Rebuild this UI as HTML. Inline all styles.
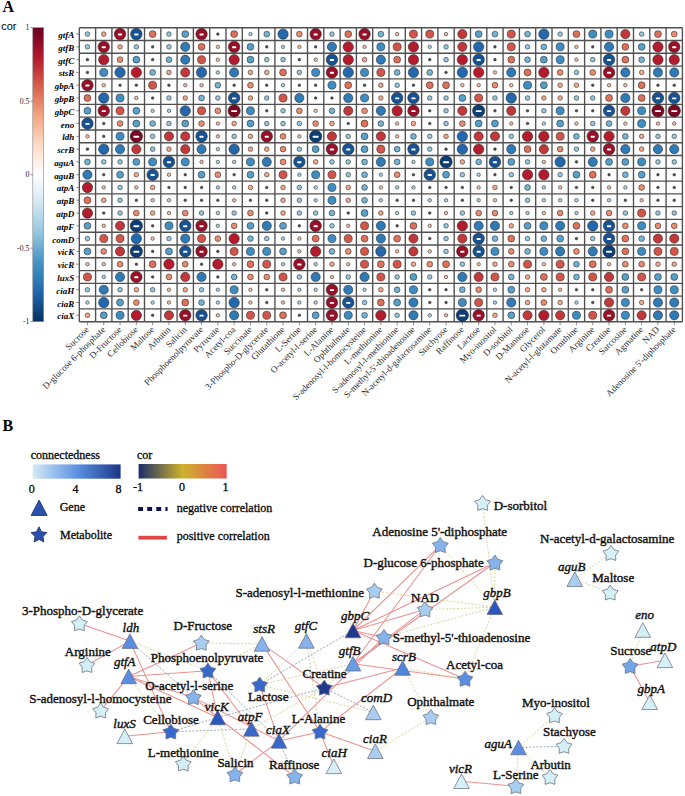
<!DOCTYPE html><html><head><meta charset="utf-8"><style>
html,body{margin:0;padding:0;background:#fff;width:685px;height:796px;overflow:hidden}
svg{display:block}
.ser{font-family:"Liberation Serif",serif} .lg{stroke:#111;stroke-width:0.3}
.san{font-family:"Liberation Sans",sans-serif}
</style></head><body>
<svg width="685" height="796" viewBox="0 0 685 796">
<rect width="685" height="796" fill="#fff"/>
<text x="2.4" y="12.3" class="ser" font-weight="bold" font-size="16">A</text>
<text x="1.2" y="29.8" class="san" font-size="11">cor</text>
<defs><linearGradient id="cbA" x1="0" y1="0" x2="0" y2="1">
<stop offset="0.000" stop-color="#67001F"/>
<stop offset="0.100" stop-color="#B2182B"/>
<stop offset="0.200" stop-color="#D6604D"/>
<stop offset="0.300" stop-color="#F4A582"/>
<stop offset="0.400" stop-color="#FDDBC7"/>
<stop offset="0.500" stop-color="#FFFFFF"/>
<stop offset="0.600" stop-color="#D1E5F0"/>
<stop offset="0.700" stop-color="#92C5DE"/>
<stop offset="0.800" stop-color="#4393C3"/>
<stop offset="0.900" stop-color="#2166AC"/>
<stop offset="1.000" stop-color="#053061"/>
</linearGradient>
<linearGradient id="cbCon" x1="0" y1="0" x2="1" y2="0"><stop offset="0" stop-color="#d3eaf6"/><stop offset="0.5" stop-color="#5d92e2"/><stop offset="1" stop-color="#1c3689"/></linearGradient>
<linearGradient id="cbCor" x1="0" y1="0" x2="1" y2="0"><stop offset="0" stop-color="#1b2c6b"/><stop offset="0.5" stop-color="#cdb22c"/><stop offset="1" stop-color="#ea5656"/></linearGradient>
</defs>
<rect x="32.8" y="27.7" width="10.9" height="294.0" fill="url(#cbA)" stroke="#888" stroke-width="0.6"/>
<line x1="30.3" x2="32.8" y1="27.70" y2="27.70" stroke="#555" stroke-width="0.6"/>
<text x="29.4" y="30.40" class="ser" font-size="7.8" text-anchor="end" fill="#222">1</text>
<line x1="30.3" x2="32.8" y1="101.20" y2="101.20" stroke="#555" stroke-width="0.6"/>
<text x="29.4" y="103.90" class="ser" font-size="7.8" text-anchor="end" fill="#222">0.5</text>
<line x1="30.3" x2="32.8" y1="174.70" y2="174.70" stroke="#555" stroke-width="0.6"/>
<text x="29.4" y="177.40" class="ser" font-size="7.8" text-anchor="end" fill="#222">0</text>
<line x1="30.3" x2="32.8" y1="248.20" y2="248.20" stroke="#555" stroke-width="0.6"/>
<text x="29.4" y="250.90" class="ser" font-size="7.8" text-anchor="end" fill="#222">-0.5</text>
<line x1="30.3" x2="32.8" y1="321.70" y2="321.70" stroke="#555" stroke-width="0.6"/>
<text x="29.4" y="324.40" class="ser" font-size="7.8" text-anchor="end" fill="#222">-1</text>
<g stroke="#505050" stroke-width="1.35" fill="none">
<line x1="79.30" x2="79.30" y1="27.70" y2="321.70"/>
<line x1="95.60" x2="95.60" y1="27.70" y2="321.70"/>
<line x1="111.90" x2="111.90" y1="27.70" y2="321.70"/>
<line x1="128.20" x2="128.20" y1="27.70" y2="321.70"/>
<line x1="144.50" x2="144.50" y1="27.70" y2="321.70"/>
<line x1="160.80" x2="160.80" y1="27.70" y2="321.70"/>
<line x1="177.10" x2="177.10" y1="27.70" y2="321.70"/>
<line x1="193.40" x2="193.40" y1="27.70" y2="321.70"/>
<line x1="209.70" x2="209.70" y1="27.70" y2="321.70"/>
<line x1="226.00" x2="226.00" y1="27.70" y2="321.70"/>
<line x1="242.30" x2="242.30" y1="27.70" y2="321.70"/>
<line x1="258.60" x2="258.60" y1="27.70" y2="321.70"/>
<line x1="274.90" x2="274.90" y1="27.70" y2="321.70"/>
<line x1="291.20" x2="291.20" y1="27.70" y2="321.70"/>
<line x1="307.50" x2="307.50" y1="27.70" y2="321.70"/>
<line x1="323.80" x2="323.80" y1="27.70" y2="321.70"/>
<line x1="340.10" x2="340.10" y1="27.70" y2="321.70"/>
<line x1="356.40" x2="356.40" y1="27.70" y2="321.70"/>
<line x1="372.70" x2="372.70" y1="27.70" y2="321.70"/>
<line x1="389.00" x2="389.00" y1="27.70" y2="321.70"/>
<line x1="405.30" x2="405.30" y1="27.70" y2="321.70"/>
<line x1="421.60" x2="421.60" y1="27.70" y2="321.70"/>
<line x1="437.90" x2="437.90" y1="27.70" y2="321.70"/>
<line x1="454.20" x2="454.20" y1="27.70" y2="321.70"/>
<line x1="470.50" x2="470.50" y1="27.70" y2="321.70"/>
<line x1="486.80" x2="486.80" y1="27.70" y2="321.70"/>
<line x1="503.10" x2="503.10" y1="27.70" y2="321.70"/>
<line x1="519.40" x2="519.40" y1="27.70" y2="321.70"/>
<line x1="535.70" x2="535.70" y1="27.70" y2="321.70"/>
<line x1="552.00" x2="552.00" y1="27.70" y2="321.70"/>
<line x1="568.30" x2="568.30" y1="27.70" y2="321.70"/>
<line x1="584.60" x2="584.60" y1="27.70" y2="321.70"/>
<line x1="600.90" x2="600.90" y1="27.70" y2="321.70"/>
<line x1="617.20" x2="617.20" y1="27.70" y2="321.70"/>
<line x1="633.50" x2="633.50" y1="27.70" y2="321.70"/>
<line x1="649.80" x2="649.80" y1="27.70" y2="321.70"/>
<line x1="666.10" x2="666.10" y1="27.70" y2="321.70"/>
<line x1="682.40" x2="682.40" y1="27.70" y2="321.70"/>
<line x1="79.30" x2="682.40" y1="27.70" y2="27.70"/>
<line x1="79.30" x2="682.40" y1="40.48" y2="40.48"/>
<line x1="79.30" x2="682.40" y1="53.27" y2="53.27"/>
<line x1="79.30" x2="682.40" y1="66.05" y2="66.05"/>
<line x1="79.30" x2="682.40" y1="78.83" y2="78.83"/>
<line x1="79.30" x2="682.40" y1="91.61" y2="91.61"/>
<line x1="79.30" x2="682.40" y1="104.40" y2="104.40"/>
<line x1="79.30" x2="682.40" y1="117.18" y2="117.18"/>
<line x1="79.30" x2="682.40" y1="129.96" y2="129.96"/>
<line x1="79.30" x2="682.40" y1="142.74" y2="142.74"/>
<line x1="79.30" x2="682.40" y1="155.53" y2="155.53"/>
<line x1="79.30" x2="682.40" y1="168.31" y2="168.31"/>
<line x1="79.30" x2="682.40" y1="181.09" y2="181.09"/>
<line x1="79.30" x2="682.40" y1="193.87" y2="193.87"/>
<line x1="79.30" x2="682.40" y1="206.66" y2="206.66"/>
<line x1="79.30" x2="682.40" y1="219.44" y2="219.44"/>
<line x1="79.30" x2="682.40" y1="232.22" y2="232.22"/>
<line x1="79.30" x2="682.40" y1="245.00" y2="245.00"/>
<line x1="79.30" x2="682.40" y1="257.79" y2="257.79"/>
<line x1="79.30" x2="682.40" y1="270.57" y2="270.57"/>
<line x1="79.30" x2="682.40" y1="283.35" y2="283.35"/>
<line x1="79.30" x2="682.40" y1="296.13" y2="296.13"/>
<line x1="79.30" x2="682.40" y1="308.92" y2="308.92"/>
<line x1="79.30" x2="682.40" y1="321.70" y2="321.70"/>
</g>
<g stroke="#444" stroke-width="0.6">
<line x1="76.3" x2="79.30" y1="34.09" y2="34.09"/>
<line x1="76.3" x2="79.30" y1="46.87" y2="46.87"/>
<line x1="76.3" x2="79.30" y1="59.66" y2="59.66"/>
<line x1="76.3" x2="79.30" y1="72.44" y2="72.44"/>
<line x1="76.3" x2="79.30" y1="85.22" y2="85.22"/>
<line x1="76.3" x2="79.30" y1="98.00" y2="98.00"/>
<line x1="76.3" x2="79.30" y1="110.79" y2="110.79"/>
<line x1="76.3" x2="79.30" y1="123.57" y2="123.57"/>
<line x1="76.3" x2="79.30" y1="136.35" y2="136.35"/>
<line x1="76.3" x2="79.30" y1="149.13" y2="149.13"/>
<line x1="76.3" x2="79.30" y1="161.92" y2="161.92"/>
<line x1="76.3" x2="79.30" y1="174.70" y2="174.70"/>
<line x1="76.3" x2="79.30" y1="187.48" y2="187.48"/>
<line x1="76.3" x2="79.30" y1="200.27" y2="200.27"/>
<line x1="76.3" x2="79.30" y1="213.05" y2="213.05"/>
<line x1="76.3" x2="79.30" y1="225.83" y2="225.83"/>
<line x1="76.3" x2="79.30" y1="238.61" y2="238.61"/>
<line x1="76.3" x2="79.30" y1="251.40" y2="251.40"/>
<line x1="76.3" x2="79.30" y1="264.18" y2="264.18"/>
<line x1="76.3" x2="79.30" y1="276.96" y2="276.96"/>
<line x1="76.3" x2="79.30" y1="289.74" y2="289.74"/>
<line x1="76.3" x2="79.30" y1="302.53" y2="302.53"/>
<line x1="76.3" x2="79.30" y1="315.31" y2="315.31"/>
<line x1="87.45" x2="87.45" y1="321.70" y2="325.20"/>
<line x1="103.75" x2="103.75" y1="321.70" y2="325.20"/>
<line x1="120.05" x2="120.05" y1="321.70" y2="325.20"/>
<line x1="136.35" x2="136.35" y1="321.70" y2="325.20"/>
<line x1="152.65" x2="152.65" y1="321.70" y2="325.20"/>
<line x1="168.95" x2="168.95" y1="321.70" y2="325.20"/>
<line x1="185.25" x2="185.25" y1="321.70" y2="325.20"/>
<line x1="201.55" x2="201.55" y1="321.70" y2="325.20"/>
<line x1="217.85" x2="217.85" y1="321.70" y2="325.20"/>
<line x1="234.15" x2="234.15" y1="321.70" y2="325.20"/>
<line x1="250.45" x2="250.45" y1="321.70" y2="325.20"/>
<line x1="266.75" x2="266.75" y1="321.70" y2="325.20"/>
<line x1="283.05" x2="283.05" y1="321.70" y2="325.20"/>
<line x1="299.35" x2="299.35" y1="321.70" y2="325.20"/>
<line x1="315.65" x2="315.65" y1="321.70" y2="325.20"/>
<line x1="331.95" x2="331.95" y1="321.70" y2="325.20"/>
<line x1="348.25" x2="348.25" y1="321.70" y2="325.20"/>
<line x1="364.55" x2="364.55" y1="321.70" y2="325.20"/>
<line x1="380.85" x2="380.85" y1="321.70" y2="325.20"/>
<line x1="397.15" x2="397.15" y1="321.70" y2="325.20"/>
<line x1="413.45" x2="413.45" y1="321.70" y2="325.20"/>
<line x1="429.75" x2="429.75" y1="321.70" y2="325.20"/>
<line x1="446.05" x2="446.05" y1="321.70" y2="325.20"/>
<line x1="462.35" x2="462.35" y1="321.70" y2="325.20"/>
<line x1="478.65" x2="478.65" y1="321.70" y2="325.20"/>
<line x1="494.95" x2="494.95" y1="321.70" y2="325.20"/>
<line x1="511.25" x2="511.25" y1="321.70" y2="325.20"/>
<line x1="527.55" x2="527.55" y1="321.70" y2="325.20"/>
<line x1="543.85" x2="543.85" y1="321.70" y2="325.20"/>
<line x1="560.15" x2="560.15" y1="321.70" y2="325.20"/>
<line x1="576.45" x2="576.45" y1="321.70" y2="325.20"/>
<line x1="592.75" x2="592.75" y1="321.70" y2="325.20"/>
<line x1="609.05" x2="609.05" y1="321.70" y2="325.20"/>
<line x1="625.35" x2="625.35" y1="321.70" y2="325.20"/>
<line x1="641.65" x2="641.65" y1="321.70" y2="325.20"/>
<line x1="657.95" x2="657.95" y1="321.70" y2="325.20"/>
<line x1="674.25" x2="674.25" y1="321.70" y2="325.20"/>
</g>
<g stroke="#222" stroke-width="0.55">
<circle cx="87.45" cy="34.09" r="2.31" fill="#95c7df"/>
<circle cx="103.75" cy="34.09" r="2.31" fill="#f4a885"/>
<circle cx="120.05" cy="34.09" r="5.73" fill="#981027"/>
<circle cx="136.35" cy="34.09" r="5.73" fill="#175392"/>
<circle cx="152.65" cy="34.09" r="3.45" fill="#de715a"/>
<circle cx="168.95" cy="34.09" r="2.31" fill="#95c7df"/>
<circle cx="185.25" cy="34.09" r="3.45" fill="#57a0ca"/>
<circle cx="201.55" cy="34.09" r="5.73" fill="#981027"/>
<circle cx="217.85" cy="34.09" r="1.30" fill="#555"/>
<circle cx="234.15" cy="34.09" r="3.45" fill="#de715a"/>
<circle cx="250.45" cy="34.09" r="1.74" fill="#aed3e6"/>
<circle cx="266.75" cy="34.09" r="2.88" fill="#76b4d5"/>
<circle cx="283.05" cy="34.09" r="5.16" fill="#2368ad"/>
<circle cx="299.35" cy="34.09" r="2.88" fill="#ea8d6f"/>
<circle cx="315.65" cy="34.09" r="5.73" fill="#981027"/>
<circle cx="331.95" cy="34.09" r="2.31" fill="#95c7df"/>
<circle cx="348.25" cy="34.09" r="3.45" fill="#de715a"/>
<circle cx="364.55" cy="34.09" r="5.73" fill="#981027"/>
<circle cx="380.85" cy="34.09" r="2.88" fill="#76b4d5"/>
<circle cx="397.15" cy="34.09" r="1.74" fill="#f8bda1"/>
<circle cx="413.45" cy="34.09" r="4.02" fill="#d15548"/>
<circle cx="429.75" cy="34.09" r="4.02" fill="#d15548"/>
<circle cx="446.05" cy="34.09" r="1.74" fill="#f8bda1"/>
<circle cx="462.35" cy="34.09" r="4.59" fill="#c2383a"/>
<circle cx="478.65" cy="34.09" r="3.45" fill="#57a0ca"/>
<circle cx="494.95" cy="34.09" r="2.88" fill="#76b4d5"/>
<circle cx="511.25" cy="34.09" r="4.02" fill="#d15548"/>
<circle cx="527.55" cy="34.09" r="2.88" fill="#76b4d5"/>
<circle cx="543.85" cy="34.09" r="5.16" fill="#2368ad"/>
<circle cx="560.15" cy="34.09" r="2.31" fill="#95c7df"/>
<circle cx="576.45" cy="34.09" r="3.45" fill="#de715a"/>
<circle cx="592.75" cy="34.09" r="4.02" fill="#3e8cc0"/>
<circle cx="609.05" cy="34.09" r="4.02" fill="#3e8cc0"/>
<circle cx="625.35" cy="34.09" r="4.59" fill="#c2383a"/>
<circle cx="641.65" cy="34.09" r="2.31" fill="#95c7df"/>
<circle cx="657.95" cy="34.09" r="3.45" fill="#de715a"/>
<circle cx="674.25" cy="34.09" r="2.88" fill="#ea8d6f"/>
<circle cx="87.45" cy="46.87" r="2.31" fill="#95c7df"/>
<circle cx="103.75" cy="46.87" r="5.73" fill="#981027"/>
<circle cx="120.05" cy="46.87" r="2.31" fill="#f4a885"/>
<circle cx="136.35" cy="46.87" r="2.31" fill="#95c7df"/>
<circle cx="152.65" cy="46.87" r="1.30" fill="#555"/>
<circle cx="168.95" cy="46.87" r="2.31" fill="#95c7df"/>
<circle cx="185.25" cy="46.87" r="4.59" fill="#307ab6"/>
<circle cx="201.55" cy="46.87" r="3.45" fill="#de715a"/>
<circle cx="217.85" cy="46.87" r="1.74" fill="#f8bda1"/>
<circle cx="234.15" cy="46.87" r="5.73" fill="#981027"/>
<circle cx="250.45" cy="46.87" r="3.45" fill="#57a0ca"/>
<circle cx="266.75" cy="46.87" r="1.30" fill="#555"/>
<circle cx="283.05" cy="46.87" r="1.74" fill="#aed3e6"/>
<circle cx="299.35" cy="46.87" r="1.74" fill="#f8bda1"/>
<circle cx="315.65" cy="46.87" r="1.30" fill="#555"/>
<circle cx="331.95" cy="46.87" r="4.59" fill="#307ab6"/>
<circle cx="348.25" cy="46.87" r="5.16" fill="#b41c2d"/>
<circle cx="364.55" cy="46.87" r="1.74" fill="#f8bda1"/>
<circle cx="380.85" cy="46.87" r="4.02" fill="#3e8cc0"/>
<circle cx="397.15" cy="46.87" r="4.02" fill="#d15548"/>
<circle cx="413.45" cy="46.87" r="5.16" fill="#b41c2d"/>
<circle cx="429.75" cy="46.87" r="1.74" fill="#aed3e6"/>
<circle cx="446.05" cy="46.87" r="2.31" fill="#95c7df"/>
<circle cx="462.35" cy="46.87" r="4.59" fill="#c2383a"/>
<circle cx="478.65" cy="46.87" r="5.16" fill="#2368ad"/>
<circle cx="494.95" cy="46.87" r="1.30" fill="#555"/>
<circle cx="511.25" cy="46.87" r="4.02" fill="#d15548"/>
<circle cx="527.55" cy="46.87" r="2.31" fill="#95c7df"/>
<circle cx="543.85" cy="46.87" r="2.88" fill="#76b4d5"/>
<circle cx="560.15" cy="46.87" r="4.02" fill="#3e8cc0"/>
<circle cx="576.45" cy="46.87" r="1.74" fill="#f8bda1"/>
<circle cx="592.75" cy="46.87" r="1.30" fill="#555"/>
<circle cx="609.05" cy="46.87" r="4.59" fill="#307ab6"/>
<circle cx="625.35" cy="46.87" r="3.45" fill="#de715a"/>
<circle cx="641.65" cy="46.87" r="3.45" fill="#57a0ca"/>
<circle cx="657.95" cy="46.87" r="5.16" fill="#b41c2d"/>
<circle cx="674.25" cy="46.87" r="5.73" fill="#981027"/>
<circle cx="87.45" cy="59.66" r="1.30" fill="#555"/>
<circle cx="103.75" cy="59.66" r="5.16" fill="#b41c2d"/>
<circle cx="120.05" cy="59.66" r="2.88" fill="#ea8d6f"/>
<circle cx="136.35" cy="59.66" r="3.45" fill="#57a0ca"/>
<circle cx="152.65" cy="59.66" r="1.30" fill="#555"/>
<circle cx="168.95" cy="59.66" r="2.88" fill="#76b4d5"/>
<circle cx="185.25" cy="59.66" r="4.59" fill="#307ab6"/>
<circle cx="201.55" cy="59.66" r="4.02" fill="#d15548"/>
<circle cx="217.85" cy="59.66" r="1.74" fill="#f8bda1"/>
<circle cx="234.15" cy="59.66" r="5.16" fill="#b41c2d"/>
<circle cx="250.45" cy="59.66" r="3.45" fill="#57a0ca"/>
<circle cx="266.75" cy="59.66" r="2.31" fill="#95c7df"/>
<circle cx="283.05" cy="59.66" r="2.31" fill="#95c7df"/>
<circle cx="299.35" cy="59.66" r="1.30" fill="#555"/>
<circle cx="315.65" cy="59.66" r="1.74" fill="#f8bda1"/>
<circle cx="331.95" cy="59.66" r="5.73" fill="#175392"/>
<circle cx="348.25" cy="59.66" r="5.16" fill="#b41c2d"/>
<circle cx="364.55" cy="59.66" r="2.31" fill="#f4a885"/>
<circle cx="380.85" cy="59.66" r="4.59" fill="#307ab6"/>
<circle cx="397.15" cy="59.66" r="3.45" fill="#de715a"/>
<circle cx="413.45" cy="59.66" r="5.16" fill="#b41c2d"/>
<circle cx="429.75" cy="59.66" r="1.30" fill="#555"/>
<circle cx="446.05" cy="59.66" r="2.31" fill="#95c7df"/>
<circle cx="462.35" cy="59.66" r="5.16" fill="#b41c2d"/>
<circle cx="478.65" cy="59.66" r="5.73" fill="#175392"/>
<circle cx="494.95" cy="59.66" r="1.30" fill="#555"/>
<circle cx="511.25" cy="59.66" r="3.45" fill="#de715a"/>
<circle cx="527.55" cy="59.66" r="2.88" fill="#76b4d5"/>
<circle cx="543.85" cy="59.66" r="3.45" fill="#57a0ca"/>
<circle cx="560.15" cy="59.66" r="4.02" fill="#3e8cc0"/>
<circle cx="576.45" cy="59.66" r="1.74" fill="#f8bda1"/>
<circle cx="592.75" cy="59.66" r="2.31" fill="#95c7df"/>
<circle cx="609.05" cy="59.66" r="5.73" fill="#175392"/>
<circle cx="625.35" cy="59.66" r="3.45" fill="#de715a"/>
<circle cx="641.65" cy="59.66" r="2.88" fill="#76b4d5"/>
<circle cx="657.95" cy="59.66" r="5.16" fill="#b41c2d"/>
<circle cx="674.25" cy="59.66" r="5.16" fill="#b41c2d"/>
<circle cx="87.45" cy="72.44" r="1.30" fill="#555"/>
<circle cx="103.75" cy="72.44" r="4.02" fill="#3e8cc0"/>
<circle cx="120.05" cy="72.44" r="5.16" fill="#2368ad"/>
<circle cx="136.35" cy="72.44" r="5.16" fill="#b41c2d"/>
<circle cx="152.65" cy="72.44" r="2.88" fill="#76b4d5"/>
<circle cx="168.95" cy="72.44" r="2.31" fill="#f4a885"/>
<circle cx="185.25" cy="72.44" r="4.59" fill="#c2383a"/>
<circle cx="201.55" cy="72.44" r="5.16" fill="#2368ad"/>
<circle cx="217.85" cy="72.44" r="1.74" fill="#aed3e6"/>
<circle cx="234.15" cy="72.44" r="4.59" fill="#307ab6"/>
<circle cx="250.45" cy="72.44" r="2.31" fill="#f4a885"/>
<circle cx="266.75" cy="72.44" r="2.31" fill="#f4a885"/>
<circle cx="283.05" cy="72.44" r="3.45" fill="#de715a"/>
<circle cx="299.35" cy="72.44" r="2.31" fill="#95c7df"/>
<circle cx="315.65" cy="72.44" r="4.02" fill="#3e8cc0"/>
<circle cx="331.95" cy="72.44" r="5.73" fill="#981027"/>
<circle cx="348.25" cy="72.44" r="5.16" fill="#2368ad"/>
<circle cx="364.55" cy="72.44" r="4.02" fill="#3e8cc0"/>
<circle cx="380.85" cy="72.44" r="4.02" fill="#d15548"/>
<circle cx="397.15" cy="72.44" r="2.88" fill="#76b4d5"/>
<circle cx="413.45" cy="72.44" r="5.16" fill="#2368ad"/>
<circle cx="429.75" cy="72.44" r="2.88" fill="#76b4d5"/>
<circle cx="446.05" cy="72.44" r="1.30" fill="#555"/>
<circle cx="462.35" cy="72.44" r="5.16" fill="#2368ad"/>
<circle cx="478.65" cy="72.44" r="5.16" fill="#b41c2d"/>
<circle cx="494.95" cy="72.44" r="1.74" fill="#f8bda1"/>
<circle cx="511.25" cy="72.44" r="4.59" fill="#307ab6"/>
<circle cx="527.55" cy="72.44" r="3.45" fill="#de715a"/>
<circle cx="543.85" cy="72.44" r="5.16" fill="#b41c2d"/>
<circle cx="560.15" cy="72.44" r="2.88" fill="#ea8d6f"/>
<circle cx="576.45" cy="72.44" r="2.31" fill="#95c7df"/>
<circle cx="592.75" cy="72.44" r="2.88" fill="#ea8d6f"/>
<circle cx="609.05" cy="72.44" r="5.73" fill="#981027"/>
<circle cx="625.35" cy="72.44" r="4.59" fill="#307ab6"/>
<circle cx="641.65" cy="72.44" r="2.31" fill="#f4a885"/>
<circle cx="657.95" cy="72.44" r="4.59" fill="#307ab6"/>
<circle cx="674.25" cy="72.44" r="4.59" fill="#307ab6"/>
<circle cx="87.45" cy="85.22" r="5.73" fill="#981027"/>
<circle cx="103.75" cy="85.22" r="1.74" fill="#f8bda1"/>
<circle cx="120.05" cy="85.22" r="1.30" fill="#555"/>
<circle cx="136.35" cy="85.22" r="1.30" fill="#555"/>
<circle cx="152.65" cy="85.22" r="4.02" fill="#d15548"/>
<circle cx="168.95" cy="85.22" r="1.30" fill="#555"/>
<circle cx="185.25" cy="85.22" r="1.74" fill="#f8bda1"/>
<circle cx="201.55" cy="85.22" r="1.74" fill="#f8bda1"/>
<circle cx="217.85" cy="85.22" r="2.88" fill="#76b4d5"/>
<circle cx="234.15" cy="85.22" r="1.30" fill="#555"/>
<circle cx="250.45" cy="85.22" r="2.88" fill="#ea8d6f"/>
<circle cx="266.75" cy="85.22" r="1.30" fill="#555"/>
<circle cx="283.05" cy="85.22" r="1.74" fill="#aed3e6"/>
<circle cx="299.35" cy="85.22" r="1.30" fill="#555"/>
<circle cx="315.65" cy="85.22" r="1.30" fill="#555"/>
<circle cx="331.95" cy="85.22" r="4.02" fill="#3e8cc0"/>
<circle cx="348.25" cy="85.22" r="3.45" fill="#de715a"/>
<circle cx="364.55" cy="85.22" r="1.30" fill="#555"/>
<circle cx="380.85" cy="85.22" r="2.31" fill="#f4a885"/>
<circle cx="397.15" cy="85.22" r="2.31" fill="#95c7df"/>
<circle cx="413.45" cy="85.22" r="1.30" fill="#555"/>
<circle cx="429.75" cy="85.22" r="3.45" fill="#de715a"/>
<circle cx="446.05" cy="85.22" r="3.45" fill="#de715a"/>
<circle cx="462.35" cy="85.22" r="1.74" fill="#f8bda1"/>
<circle cx="478.65" cy="85.22" r="1.74" fill="#f8bda1"/>
<circle cx="494.95" cy="85.22" r="2.88" fill="#ea8d6f"/>
<circle cx="511.25" cy="85.22" r="1.74" fill="#f8bda1"/>
<circle cx="527.55" cy="85.22" r="4.02" fill="#3e8cc0"/>
<circle cx="543.85" cy="85.22" r="3.45" fill="#57a0ca"/>
<circle cx="560.15" cy="85.22" r="2.31" fill="#f4a885"/>
<circle cx="576.45" cy="85.22" r="2.31" fill="#f4a885"/>
<circle cx="592.75" cy="85.22" r="1.30" fill="#555"/>
<circle cx="609.05" cy="85.22" r="1.74" fill="#f8bda1"/>
<circle cx="625.35" cy="85.22" r="1.74" fill="#f8bda1"/>
<circle cx="641.65" cy="85.22" r="3.45" fill="#de715a"/>
<circle cx="657.95" cy="85.22" r="1.30" fill="#555"/>
<circle cx="674.25" cy="85.22" r="1.30" fill="#555"/>
<circle cx="87.45" cy="98.00" r="3.45" fill="#de715a"/>
<circle cx="103.75" cy="98.00" r="5.16" fill="#2368ad"/>
<circle cx="120.05" cy="98.00" r="4.02" fill="#3e8cc0"/>
<circle cx="136.35" cy="98.00" r="1.74" fill="#f8bda1"/>
<circle cx="152.65" cy="98.00" r="1.30" fill="#555"/>
<circle cx="168.95" cy="98.00" r="2.31" fill="#95c7df"/>
<circle cx="185.25" cy="98.00" r="2.31" fill="#f4a885"/>
<circle cx="201.55" cy="98.00" r="2.88" fill="#76b4d5"/>
<circle cx="217.85" cy="98.00" r="2.31" fill="#95c7df"/>
<circle cx="234.15" cy="98.00" r="5.73" fill="#175392"/>
<circle cx="250.45" cy="98.00" r="2.31" fill="#f4a885"/>
<circle cx="266.75" cy="98.00" r="2.31" fill="#95c7df"/>
<circle cx="283.05" cy="98.00" r="4.02" fill="#d15548"/>
<circle cx="299.35" cy="98.00" r="4.59" fill="#307ab6"/>
<circle cx="315.65" cy="98.00" r="1.30" fill="#555"/>
<circle cx="331.95" cy="98.00" r="1.30" fill="#555"/>
<circle cx="348.25" cy="98.00" r="4.59" fill="#307ab6"/>
<circle cx="364.55" cy="98.00" r="4.02" fill="#3e8cc0"/>
<circle cx="380.85" cy="98.00" r="2.31" fill="#f4a885"/>
<circle cx="397.15" cy="98.00" r="5.73" fill="#175392"/>
<circle cx="413.45" cy="98.00" r="5.73" fill="#175392"/>
<circle cx="429.75" cy="98.00" r="2.31" fill="#95c7df"/>
<circle cx="446.05" cy="98.00" r="2.31" fill="#95c7df"/>
<circle cx="462.35" cy="98.00" r="3.45" fill="#57a0ca"/>
<circle cx="478.65" cy="98.00" r="4.02" fill="#d15548"/>
<circle cx="494.95" cy="98.00" r="2.31" fill="#95c7df"/>
<circle cx="511.25" cy="98.00" r="5.16" fill="#2368ad"/>
<circle cx="527.55" cy="98.00" r="2.31" fill="#95c7df"/>
<circle cx="543.85" cy="98.00" r="2.31" fill="#f4a885"/>
<circle cx="560.15" cy="98.00" r="2.31" fill="#f4a885"/>
<circle cx="576.45" cy="98.00" r="2.31" fill="#95c7df"/>
<circle cx="592.75" cy="98.00" r="2.31" fill="#95c7df"/>
<circle cx="609.05" cy="98.00" r="3.45" fill="#de715a"/>
<circle cx="625.35" cy="98.00" r="4.59" fill="#307ab6"/>
<circle cx="641.65" cy="98.00" r="3.45" fill="#de715a"/>
<circle cx="657.95" cy="98.00" r="5.73" fill="#175392"/>
<circle cx="674.25" cy="98.00" r="5.73" fill="#175392"/>
<circle cx="87.45" cy="110.79" r="3.45" fill="#57a0ca"/>
<circle cx="103.75" cy="110.79" r="5.73" fill="#981027"/>
<circle cx="120.05" cy="110.79" r="4.02" fill="#d15548"/>
<circle cx="136.35" cy="110.79" r="3.45" fill="#57a0ca"/>
<circle cx="152.65" cy="110.79" r="1.74" fill="#aed3e6"/>
<circle cx="168.95" cy="110.79" r="1.74" fill="#aed3e6"/>
<circle cx="185.25" cy="110.79" r="5.16" fill="#2368ad"/>
<circle cx="201.55" cy="110.79" r="4.02" fill="#d15548"/>
<circle cx="217.85" cy="110.79" r="2.88" fill="#ea8d6f"/>
<circle cx="234.15" cy="110.79" r="6.15" fill="#7a0622"/>
<circle cx="250.45" cy="110.79" r="4.02" fill="#3e8cc0"/>
<circle cx="266.75" cy="110.79" r="1.30" fill="#555"/>
<circle cx="283.05" cy="110.79" r="2.31" fill="#95c7df"/>
<circle cx="299.35" cy="110.79" r="2.88" fill="#ea8d6f"/>
<circle cx="315.65" cy="110.79" r="1.74" fill="#f8bda1"/>
<circle cx="331.95" cy="110.79" r="2.88" fill="#76b4d5"/>
<circle cx="348.25" cy="110.79" r="4.59" fill="#c2383a"/>
<circle cx="364.55" cy="110.79" r="2.88" fill="#ea8d6f"/>
<circle cx="380.85" cy="110.79" r="4.59" fill="#307ab6"/>
<circle cx="397.15" cy="110.79" r="5.16" fill="#b41c2d"/>
<circle cx="413.45" cy="110.79" r="5.73" fill="#981027"/>
<circle cx="429.75" cy="110.79" r="1.30" fill="#555"/>
<circle cx="446.05" cy="110.79" r="2.31" fill="#95c7df"/>
<circle cx="462.35" cy="110.79" r="4.59" fill="#c2383a"/>
<circle cx="478.65" cy="110.79" r="6.15" fill="#0c3d74"/>
<circle cx="494.95" cy="110.79" r="1.30" fill="#555"/>
<circle cx="511.25" cy="110.79" r="4.59" fill="#c2383a"/>
<circle cx="527.55" cy="110.79" r="1.30" fill="#555"/>
<circle cx="543.85" cy="110.79" r="2.31" fill="#95c7df"/>
<circle cx="560.15" cy="110.79" r="4.02" fill="#3e8cc0"/>
<circle cx="576.45" cy="110.79" r="1.30" fill="#555"/>
<circle cx="592.75" cy="110.79" r="1.30" fill="#555"/>
<circle cx="609.05" cy="110.79" r="5.73" fill="#175392"/>
<circle cx="625.35" cy="110.79" r="4.59" fill="#c2383a"/>
<circle cx="641.65" cy="110.79" r="4.02" fill="#3e8cc0"/>
<circle cx="657.95" cy="110.79" r="6.15" fill="#7a0622"/>
<circle cx="674.25" cy="110.79" r="6.15" fill="#7a0622"/>
<circle cx="87.45" cy="123.57" r="5.73" fill="#175392"/>
<circle cx="103.75" cy="123.57" r="1.30" fill="#555"/>
<circle cx="120.05" cy="123.57" r="2.88" fill="#ea8d6f"/>
<circle cx="136.35" cy="123.57" r="3.45" fill="#57a0ca"/>
<circle cx="152.65" cy="123.57" r="2.88" fill="#76b4d5"/>
<circle cx="168.95" cy="123.57" r="2.31" fill="#95c7df"/>
<circle cx="185.25" cy="123.57" r="3.45" fill="#57a0ca"/>
<circle cx="201.55" cy="123.57" r="2.88" fill="#ea8d6f"/>
<circle cx="217.85" cy="123.57" r="1.74" fill="#f8bda1"/>
<circle cx="234.15" cy="123.57" r="2.31" fill="#f4a885"/>
<circle cx="250.45" cy="123.57" r="3.45" fill="#57a0ca"/>
<circle cx="266.75" cy="123.57" r="2.31" fill="#95c7df"/>
<circle cx="283.05" cy="123.57" r="2.31" fill="#95c7df"/>
<circle cx="299.35" cy="123.57" r="2.31" fill="#95c7df"/>
<circle cx="315.65" cy="123.57" r="2.88" fill="#ea8d6f"/>
<circle cx="331.95" cy="123.57" r="2.31" fill="#f4a885"/>
<circle cx="348.25" cy="123.57" r="1.30" fill="#555"/>
<circle cx="364.55" cy="123.57" r="3.45" fill="#de715a"/>
<circle cx="380.85" cy="123.57" r="2.88" fill="#76b4d5"/>
<circle cx="397.15" cy="123.57" r="1.74" fill="#f8bda1"/>
<circle cx="413.45" cy="123.57" r="2.31" fill="#f4a885"/>
<circle cx="429.75" cy="123.57" r="1.30" fill="#555"/>
<circle cx="446.05" cy="123.57" r="2.31" fill="#95c7df"/>
<circle cx="462.35" cy="123.57" r="2.88" fill="#ea8d6f"/>
<circle cx="478.65" cy="123.57" r="3.45" fill="#57a0ca"/>
<circle cx="494.95" cy="123.57" r="3.45" fill="#57a0ca"/>
<circle cx="511.25" cy="123.57" r="1.74" fill="#f8bda1"/>
<circle cx="527.55" cy="123.57" r="1.30" fill="#555"/>
<circle cx="543.85" cy="123.57" r="1.74" fill="#aed3e6"/>
<circle cx="560.15" cy="123.57" r="3.45" fill="#57a0ca"/>
<circle cx="576.45" cy="123.57" r="1.74" fill="#f8bda1"/>
<circle cx="592.75" cy="123.57" r="2.31" fill="#95c7df"/>
<circle cx="609.05" cy="123.57" r="2.88" fill="#76b4d5"/>
<circle cx="625.35" cy="123.57" r="1.74" fill="#f8bda1"/>
<circle cx="641.65" cy="123.57" r="4.02" fill="#3e8cc0"/>
<circle cx="657.95" cy="123.57" r="1.74" fill="#f8bda1"/>
<circle cx="674.25" cy="123.57" r="1.74" fill="#f8bda1"/>
<circle cx="87.45" cy="136.35" r="1.74" fill="#f8bda1"/>
<circle cx="103.75" cy="136.35" r="1.30" fill="#555"/>
<circle cx="120.05" cy="136.35" r="4.02" fill="#3e8cc0"/>
<circle cx="136.35" cy="136.35" r="6.15" fill="#7a0622"/>
<circle cx="152.65" cy="136.35" r="2.31" fill="#95c7df"/>
<circle cx="168.95" cy="136.35" r="4.59" fill="#c2383a"/>
<circle cx="185.25" cy="136.35" r="4.59" fill="#c2383a"/>
<circle cx="201.55" cy="136.35" r="5.73" fill="#175392"/>
<circle cx="217.85" cy="136.35" r="1.74" fill="#f8bda1"/>
<circle cx="234.15" cy="136.35" r="2.31" fill="#95c7df"/>
<circle cx="250.45" cy="136.35" r="2.31" fill="#f4a885"/>
<circle cx="266.75" cy="136.35" r="5.73" fill="#981027"/>
<circle cx="283.05" cy="136.35" r="2.88" fill="#ea8d6f"/>
<circle cx="299.35" cy="136.35" r="1.74" fill="#f8bda1"/>
<circle cx="315.65" cy="136.35" r="6.15" fill="#0c3d74"/>
<circle cx="331.95" cy="136.35" r="4.59" fill="#c2383a"/>
<circle cx="348.25" cy="136.35" r="2.31" fill="#95c7df"/>
<circle cx="364.55" cy="136.35" r="3.45" fill="#57a0ca"/>
<circle cx="380.85" cy="136.35" r="4.59" fill="#c2383a"/>
<circle cx="397.15" cy="136.35" r="1.74" fill="#f8bda1"/>
<circle cx="413.45" cy="136.35" r="2.88" fill="#76b4d5"/>
<circle cx="429.75" cy="136.35" r="2.31" fill="#95c7df"/>
<circle cx="446.05" cy="136.35" r="2.31" fill="#f4a885"/>
<circle cx="462.35" cy="136.35" r="5.16" fill="#2368ad"/>
<circle cx="478.65" cy="136.35" r="4.59" fill="#c2383a"/>
<circle cx="494.95" cy="136.35" r="4.59" fill="#c2383a"/>
<circle cx="511.25" cy="136.35" r="2.31" fill="#95c7df"/>
<circle cx="527.55" cy="136.35" r="5.16" fill="#b41c2d"/>
<circle cx="543.85" cy="136.35" r="5.16" fill="#b41c2d"/>
<circle cx="560.15" cy="136.35" r="4.02" fill="#d15548"/>
<circle cx="576.45" cy="136.35" r="2.88" fill="#76b4d5"/>
<circle cx="592.75" cy="136.35" r="5.73" fill="#981027"/>
<circle cx="609.05" cy="136.35" r="5.16" fill="#b41c2d"/>
<circle cx="625.35" cy="136.35" r="2.88" fill="#76b4d5"/>
<circle cx="641.65" cy="136.35" r="2.31" fill="#f4a885"/>
<circle cx="657.95" cy="136.35" r="2.31" fill="#95c7df"/>
<circle cx="674.25" cy="136.35" r="2.31" fill="#95c7df"/>
<circle cx="87.45" cy="149.13" r="1.30" fill="#555"/>
<circle cx="103.75" cy="149.13" r="5.16" fill="#2368ad"/>
<circle cx="120.05" cy="149.13" r="4.59" fill="#307ab6"/>
<circle cx="136.35" cy="149.13" r="4.59" fill="#c2383a"/>
<circle cx="152.65" cy="149.13" r="2.31" fill="#95c7df"/>
<circle cx="168.95" cy="149.13" r="2.31" fill="#f4a885"/>
<circle cx="185.25" cy="149.13" r="4.59" fill="#c2383a"/>
<circle cx="201.55" cy="149.13" r="4.59" fill="#307ab6"/>
<circle cx="217.85" cy="149.13" r="1.74" fill="#aed3e6"/>
<circle cx="234.15" cy="149.13" r="5.16" fill="#2368ad"/>
<circle cx="250.45" cy="149.13" r="2.31" fill="#f4a885"/>
<circle cx="266.75" cy="149.13" r="2.31" fill="#f4a885"/>
<circle cx="283.05" cy="149.13" r="2.88" fill="#ea8d6f"/>
<circle cx="299.35" cy="149.13" r="2.31" fill="#95c7df"/>
<circle cx="315.65" cy="149.13" r="3.45" fill="#57a0ca"/>
<circle cx="331.95" cy="149.13" r="5.73" fill="#981027"/>
<circle cx="348.25" cy="149.13" r="5.73" fill="#175392"/>
<circle cx="364.55" cy="149.13" r="3.45" fill="#57a0ca"/>
<circle cx="380.85" cy="149.13" r="4.02" fill="#d15548"/>
<circle cx="397.15" cy="149.13" r="2.88" fill="#76b4d5"/>
<circle cx="413.45" cy="149.13" r="5.73" fill="#175392"/>
<circle cx="429.75" cy="149.13" r="2.31" fill="#95c7df"/>
<circle cx="446.05" cy="149.13" r="1.30" fill="#555"/>
<circle cx="462.35" cy="149.13" r="5.16" fill="#2368ad"/>
<circle cx="478.65" cy="149.13" r="5.16" fill="#b41c2d"/>
<circle cx="494.95" cy="149.13" r="1.30" fill="#555"/>
<circle cx="511.25" cy="149.13" r="4.59" fill="#307ab6"/>
<circle cx="527.55" cy="149.13" r="3.45" fill="#de715a"/>
<circle cx="543.85" cy="149.13" r="4.59" fill="#c2383a"/>
<circle cx="560.15" cy="149.13" r="2.88" fill="#ea8d6f"/>
<circle cx="576.45" cy="149.13" r="2.31" fill="#95c7df"/>
<circle cx="592.75" cy="149.13" r="2.31" fill="#f4a885"/>
<circle cx="609.05" cy="149.13" r="5.73" fill="#981027"/>
<circle cx="625.35" cy="149.13" r="4.59" fill="#307ab6"/>
<circle cx="641.65" cy="149.13" r="2.31" fill="#f4a885"/>
<circle cx="657.95" cy="149.13" r="4.59" fill="#307ab6"/>
<circle cx="674.25" cy="149.13" r="4.59" fill="#307ab6"/>
<circle cx="87.45" cy="161.92" r="2.88" fill="#76b4d5"/>
<circle cx="103.75" cy="161.92" r="2.31" fill="#95c7df"/>
<circle cx="120.05" cy="161.92" r="2.31" fill="#95c7df"/>
<circle cx="136.35" cy="161.92" r="3.45" fill="#57a0ca"/>
<circle cx="152.65" cy="161.92" r="4.02" fill="#3e8cc0"/>
<circle cx="168.95" cy="161.92" r="5.73" fill="#175392"/>
<circle cx="185.25" cy="161.92" r="4.02" fill="#3e8cc0"/>
<circle cx="201.55" cy="161.92" r="1.74" fill="#f8bda1"/>
<circle cx="217.85" cy="161.92" r="1.74" fill="#aed3e6"/>
<circle cx="234.15" cy="161.92" r="1.74" fill="#aed3e6"/>
<circle cx="250.45" cy="161.92" r="4.02" fill="#3e8cc0"/>
<circle cx="266.75" cy="161.92" r="4.59" fill="#307ab6"/>
<circle cx="283.05" cy="161.92" r="2.88" fill="#ea8d6f"/>
<circle cx="299.35" cy="161.92" r="5.73" fill="#175392"/>
<circle cx="315.65" cy="161.92" r="2.31" fill="#f4a885"/>
<circle cx="331.95" cy="161.92" r="2.31" fill="#95c7df"/>
<circle cx="348.25" cy="161.92" r="2.31" fill="#95c7df"/>
<circle cx="364.55" cy="161.92" r="2.88" fill="#76b4d5"/>
<circle cx="380.85" cy="161.92" r="4.59" fill="#307ab6"/>
<circle cx="397.15" cy="161.92" r="2.88" fill="#76b4d5"/>
<circle cx="413.45" cy="161.92" r="1.74" fill="#aed3e6"/>
<circle cx="429.75" cy="161.92" r="4.02" fill="#3e8cc0"/>
<circle cx="446.05" cy="161.92" r="6.15" fill="#0c3d74"/>
<circle cx="462.35" cy="161.92" r="2.31" fill="#f4a885"/>
<circle cx="478.65" cy="161.92" r="2.88" fill="#76b4d5"/>
<circle cx="494.95" cy="161.92" r="5.73" fill="#175392"/>
<circle cx="511.25" cy="161.92" r="3.45" fill="#57a0ca"/>
<circle cx="527.55" cy="161.92" r="2.31" fill="#95c7df"/>
<circle cx="543.85" cy="161.92" r="1.74" fill="#f8bda1"/>
<circle cx="560.15" cy="161.92" r="5.16" fill="#2368ad"/>
<circle cx="576.45" cy="161.92" r="1.30" fill="#555"/>
<circle cx="592.75" cy="161.92" r="4.59" fill="#307ab6"/>
<circle cx="609.05" cy="161.92" r="3.45" fill="#57a0ca"/>
<circle cx="625.35" cy="161.92" r="3.45" fill="#57a0ca"/>
<circle cx="641.65" cy="161.92" r="4.02" fill="#3e8cc0"/>
<circle cx="657.95" cy="161.92" r="2.31" fill="#95c7df"/>
<circle cx="674.25" cy="161.92" r="2.31" fill="#95c7df"/>
<circle cx="87.45" cy="174.70" r="4.59" fill="#307ab6"/>
<circle cx="103.75" cy="174.70" r="1.30" fill="#555"/>
<circle cx="120.05" cy="174.70" r="3.45" fill="#57a0ca"/>
<circle cx="136.35" cy="174.70" r="2.31" fill="#f4a885"/>
<circle cx="152.65" cy="174.70" r="5.73" fill="#175392"/>
<circle cx="168.95" cy="174.70" r="1.74" fill="#f8bda1"/>
<circle cx="185.25" cy="174.70" r="1.30" fill="#555"/>
<circle cx="201.55" cy="174.70" r="3.45" fill="#57a0ca"/>
<circle cx="217.85" cy="174.70" r="2.88" fill="#ea8d6f"/>
<circle cx="234.15" cy="174.70" r="1.30" fill="#555"/>
<circle cx="250.45" cy="174.70" r="3.45" fill="#57a0ca"/>
<circle cx="266.75" cy="174.70" r="2.31" fill="#f4a885"/>
<circle cx="283.05" cy="174.70" r="4.02" fill="#d15548"/>
<circle cx="299.35" cy="174.70" r="1.74" fill="#aed3e6"/>
<circle cx="315.65" cy="174.70" r="4.02" fill="#3e8cc0"/>
<circle cx="331.95" cy="174.70" r="4.02" fill="#d15548"/>
<circle cx="348.25" cy="174.70" r="2.31" fill="#95c7df"/>
<circle cx="364.55" cy="174.70" r="2.88" fill="#76b4d5"/>
<circle cx="380.85" cy="174.70" r="1.74" fill="#aed3e6"/>
<circle cx="397.15" cy="174.70" r="2.88" fill="#ea8d6f"/>
<circle cx="413.45" cy="174.70" r="1.30" fill="#555"/>
<circle cx="429.75" cy="174.70" r="5.73" fill="#175392"/>
<circle cx="446.05" cy="174.70" r="3.45" fill="#57a0ca"/>
<circle cx="462.35" cy="174.70" r="2.31" fill="#95c7df"/>
<circle cx="478.65" cy="174.70" r="1.74" fill="#aed3e6"/>
<circle cx="494.95" cy="174.70" r="1.30" fill="#555"/>
<circle cx="511.25" cy="174.70" r="2.31" fill="#95c7df"/>
<circle cx="527.55" cy="174.70" r="5.16" fill="#b41c2d"/>
<circle cx="543.85" cy="174.70" r="5.16" fill="#b41c2d"/>
<circle cx="560.15" cy="174.70" r="2.31" fill="#95c7df"/>
<circle cx="576.45" cy="174.70" r="3.45" fill="#57a0ca"/>
<circle cx="592.75" cy="174.70" r="3.45" fill="#de715a"/>
<circle cx="609.05" cy="174.70" r="1.30" fill="#555"/>
<circle cx="625.35" cy="174.70" r="2.88" fill="#76b4d5"/>
<circle cx="641.65" cy="174.70" r="3.45" fill="#57a0ca"/>
<circle cx="657.95" cy="174.70" r="1.30" fill="#555"/>
<circle cx="674.25" cy="174.70" r="1.30" fill="#555"/>
<circle cx="87.45" cy="187.48" r="5.16" fill="#b41c2d"/>
<circle cx="103.75" cy="187.48" r="1.74" fill="#f8bda1"/>
<circle cx="120.05" cy="187.48" r="2.31" fill="#95c7df"/>
<circle cx="136.35" cy="187.48" r="1.74" fill="#f8bda1"/>
<circle cx="152.65" cy="187.48" r="2.31" fill="#f4a885"/>
<circle cx="168.95" cy="187.48" r="1.30" fill="#555"/>
<circle cx="185.25" cy="187.48" r="1.30" fill="#555"/>
<circle cx="201.55" cy="187.48" r="1.30" fill="#555"/>
<circle cx="217.85" cy="187.48" r="1.74" fill="#aed3e6"/>
<circle cx="234.15" cy="187.48" r="1.74" fill="#aed3e6"/>
<circle cx="250.45" cy="187.48" r="2.31" fill="#f4a885"/>
<circle cx="266.75" cy="187.48" r="1.30" fill="#555"/>
<circle cx="283.05" cy="187.48" r="2.31" fill="#f4a885"/>
<circle cx="299.35" cy="187.48" r="2.31" fill="#95c7df"/>
<circle cx="315.65" cy="187.48" r="1.74" fill="#aed3e6"/>
<circle cx="331.95" cy="187.48" r="4.02" fill="#3e8cc0"/>
<circle cx="348.25" cy="187.48" r="2.31" fill="#f4a885"/>
<circle cx="364.55" cy="187.48" r="2.88" fill="#76b4d5"/>
<circle cx="380.85" cy="187.48" r="1.74" fill="#f8bda1"/>
<circle cx="397.15" cy="187.48" r="1.74" fill="#aed3e6"/>
<circle cx="413.45" cy="187.48" r="1.74" fill="#aed3e6"/>
<circle cx="429.75" cy="187.48" r="1.30" fill="#555"/>
<circle cx="446.05" cy="187.48" r="1.30" fill="#555"/>
<circle cx="462.35" cy="187.48" r="1.30" fill="#555"/>
<circle cx="478.65" cy="187.48" r="1.74" fill="#f8bda1"/>
<circle cx="494.95" cy="187.48" r="2.31" fill="#f4a885"/>
<circle cx="511.25" cy="187.48" r="1.30" fill="#555"/>
<circle cx="527.55" cy="187.48" r="2.88" fill="#76b4d5"/>
<circle cx="543.85" cy="187.48" r="1.74" fill="#aed3e6"/>
<circle cx="560.15" cy="187.48" r="1.74" fill="#f8bda1"/>
<circle cx="576.45" cy="187.48" r="1.30" fill="#555"/>
<circle cx="592.75" cy="187.48" r="1.30" fill="#555"/>
<circle cx="609.05" cy="187.48" r="1.74" fill="#f8bda1"/>
<circle cx="625.35" cy="187.48" r="1.74" fill="#aed3e6"/>
<circle cx="641.65" cy="187.48" r="2.88" fill="#ea8d6f"/>
<circle cx="657.95" cy="187.48" r="1.30" fill="#555"/>
<circle cx="674.25" cy="187.48" r="1.30" fill="#555"/>
<circle cx="87.45" cy="200.27" r="3.45" fill="#de715a"/>
<circle cx="103.75" cy="200.27" r="2.31" fill="#f4a885"/>
<circle cx="120.05" cy="200.27" r="2.31" fill="#95c7df"/>
<circle cx="136.35" cy="200.27" r="1.30" fill="#555"/>
<circle cx="152.65" cy="200.27" r="1.74" fill="#f8bda1"/>
<circle cx="168.95" cy="200.27" r="1.74" fill="#aed3e6"/>
<circle cx="185.25" cy="200.27" r="1.30" fill="#555"/>
<circle cx="201.55" cy="200.27" r="1.30" fill="#555"/>
<circle cx="217.85" cy="200.27" r="1.30" fill="#555"/>
<circle cx="234.15" cy="200.27" r="1.74" fill="#f8bda1"/>
<circle cx="250.45" cy="200.27" r="1.30" fill="#555"/>
<circle cx="266.75" cy="200.27" r="1.30" fill="#555"/>
<circle cx="283.05" cy="200.27" r="2.31" fill="#f4a885"/>
<circle cx="299.35" cy="200.27" r="2.31" fill="#95c7df"/>
<circle cx="315.65" cy="200.27" r="1.74" fill="#aed3e6"/>
<circle cx="331.95" cy="200.27" r="4.02" fill="#3e8cc0"/>
<circle cx="348.25" cy="200.27" r="2.31" fill="#f4a885"/>
<circle cx="364.55" cy="200.27" r="2.88" fill="#76b4d5"/>
<circle cx="380.85" cy="200.27" r="1.74" fill="#aed3e6"/>
<circle cx="397.15" cy="200.27" r="1.30" fill="#555"/>
<circle cx="413.45" cy="200.27" r="1.30" fill="#555"/>
<circle cx="429.75" cy="200.27" r="1.74" fill="#aed3e6"/>
<circle cx="446.05" cy="200.27" r="1.74" fill="#aed3e6"/>
<circle cx="462.35" cy="200.27" r="1.30" fill="#555"/>
<circle cx="478.65" cy="200.27" r="1.74" fill="#aed3e6"/>
<circle cx="494.95" cy="200.27" r="1.74" fill="#f8bda1"/>
<circle cx="511.25" cy="200.27" r="1.30" fill="#555"/>
<circle cx="527.55" cy="200.27" r="2.31" fill="#95c7df"/>
<circle cx="543.85" cy="200.27" r="1.74" fill="#aed3e6"/>
<circle cx="560.15" cy="200.27" r="1.74" fill="#aed3e6"/>
<circle cx="576.45" cy="200.27" r="1.74" fill="#aed3e6"/>
<circle cx="592.75" cy="200.27" r="1.30" fill="#555"/>
<circle cx="609.05" cy="200.27" r="1.74" fill="#aed3e6"/>
<circle cx="625.35" cy="200.27" r="1.30" fill="#555"/>
<circle cx="641.65" cy="200.27" r="1.74" fill="#f8bda1"/>
<circle cx="657.95" cy="200.27" r="1.30" fill="#555"/>
<circle cx="674.25" cy="200.27" r="1.30" fill="#555"/>
<circle cx="87.45" cy="213.05" r="5.16" fill="#b41c2d"/>
<circle cx="103.75" cy="213.05" r="1.30" fill="#555"/>
<circle cx="120.05" cy="213.05" r="2.31" fill="#95c7df"/>
<circle cx="136.35" cy="213.05" r="2.88" fill="#ea8d6f"/>
<circle cx="152.65" cy="213.05" r="2.31" fill="#f4a885"/>
<circle cx="168.95" cy="213.05" r="1.74" fill="#f8bda1"/>
<circle cx="185.25" cy="213.05" r="2.88" fill="#ea8d6f"/>
<circle cx="201.55" cy="213.05" r="2.31" fill="#95c7df"/>
<circle cx="217.85" cy="213.05" r="1.74" fill="#aed3e6"/>
<circle cx="234.15" cy="213.05" r="2.31" fill="#95c7df"/>
<circle cx="250.45" cy="213.05" r="2.88" fill="#ea8d6f"/>
<circle cx="266.75" cy="213.05" r="1.30" fill="#555"/>
<circle cx="283.05" cy="213.05" r="2.31" fill="#f4a885"/>
<circle cx="299.35" cy="213.05" r="2.31" fill="#95c7df"/>
<circle cx="315.65" cy="213.05" r="2.31" fill="#95c7df"/>
<circle cx="331.95" cy="213.05" r="2.88" fill="#76b4d5"/>
<circle cx="348.25" cy="213.05" r="1.30" fill="#555"/>
<circle cx="364.55" cy="213.05" r="3.45" fill="#57a0ca"/>
<circle cx="380.85" cy="213.05" r="2.31" fill="#f4a885"/>
<circle cx="397.15" cy="213.05" r="1.74" fill="#aed3e6"/>
<circle cx="413.45" cy="213.05" r="2.31" fill="#95c7df"/>
<circle cx="429.75" cy="213.05" r="1.30" fill="#555"/>
<circle cx="446.05" cy="213.05" r="1.74" fill="#f8bda1"/>
<circle cx="462.35" cy="213.05" r="2.31" fill="#95c7df"/>
<circle cx="478.65" cy="213.05" r="2.88" fill="#ea8d6f"/>
<circle cx="494.95" cy="213.05" r="2.88" fill="#ea8d6f"/>
<circle cx="511.25" cy="213.05" r="1.74" fill="#aed3e6"/>
<circle cx="527.55" cy="213.05" r="1.74" fill="#aed3e6"/>
<circle cx="543.85" cy="213.05" r="1.74" fill="#f8bda1"/>
<circle cx="560.15" cy="213.05" r="2.88" fill="#ea8d6f"/>
<circle cx="576.45" cy="213.05" r="1.74" fill="#aed3e6"/>
<circle cx="592.75" cy="213.05" r="2.31" fill="#f4a885"/>
<circle cx="609.05" cy="213.05" r="2.88" fill="#ea8d6f"/>
<circle cx="625.35" cy="213.05" r="2.31" fill="#95c7df"/>
<circle cx="641.65" cy="213.05" r="4.02" fill="#d15548"/>
<circle cx="657.95" cy="213.05" r="2.31" fill="#95c7df"/>
<circle cx="674.25" cy="213.05" r="2.31" fill="#95c7df"/>
<circle cx="87.45" cy="225.83" r="3.45" fill="#57a0ca"/>
<circle cx="103.75" cy="225.83" r="1.74" fill="#f8bda1"/>
<circle cx="120.05" cy="225.83" r="4.59" fill="#c2383a"/>
<circle cx="136.35" cy="225.83" r="6.15" fill="#0c3d74"/>
<circle cx="152.65" cy="225.83" r="1.30" fill="#555"/>
<circle cx="168.95" cy="225.83" r="4.02" fill="#3e8cc0"/>
<circle cx="185.25" cy="225.83" r="5.73" fill="#175392"/>
<circle cx="201.55" cy="225.83" r="5.73" fill="#981027"/>
<circle cx="217.85" cy="225.83" r="1.74" fill="#aed3e6"/>
<circle cx="234.15" cy="225.83" r="2.88" fill="#ea8d6f"/>
<circle cx="250.45" cy="225.83" r="3.45" fill="#57a0ca"/>
<circle cx="266.75" cy="225.83" r="4.59" fill="#307ab6"/>
<circle cx="283.05" cy="225.83" r="3.45" fill="#57a0ca"/>
<circle cx="299.35" cy="225.83" r="1.30" fill="#555"/>
<circle cx="315.65" cy="225.83" r="5.73" fill="#981027"/>
<circle cx="331.95" cy="225.83" r="2.31" fill="#95c7df"/>
<circle cx="348.25" cy="225.83" r="1.74" fill="#f8bda1"/>
<circle cx="364.55" cy="225.83" r="4.02" fill="#d15548"/>
<circle cx="380.85" cy="225.83" r="4.59" fill="#307ab6"/>
<circle cx="397.15" cy="225.83" r="1.30" fill="#555"/>
<circle cx="413.45" cy="225.83" r="3.45" fill="#de715a"/>
<circle cx="429.75" cy="225.83" r="1.74" fill="#f8bda1"/>
<circle cx="446.05" cy="225.83" r="2.31" fill="#95c7df"/>
<circle cx="462.35" cy="225.83" r="5.16" fill="#b41c2d"/>
<circle cx="478.65" cy="225.83" r="4.59" fill="#307ab6"/>
<circle cx="494.95" cy="225.83" r="4.59" fill="#307ab6"/>
<circle cx="511.25" cy="225.83" r="2.31" fill="#f4a885"/>
<circle cx="527.55" cy="225.83" r="3.45" fill="#57a0ca"/>
<circle cx="543.85" cy="225.83" r="4.02" fill="#3e8cc0"/>
<circle cx="560.15" cy="225.83" r="4.59" fill="#307ab6"/>
<circle cx="576.45" cy="225.83" r="3.45" fill="#de715a"/>
<circle cx="592.75" cy="225.83" r="5.16" fill="#2368ad"/>
<circle cx="609.05" cy="225.83" r="5.73" fill="#175392"/>
<circle cx="625.35" cy="225.83" r="2.88" fill="#ea8d6f"/>
<circle cx="641.65" cy="225.83" r="4.02" fill="#3e8cc0"/>
<circle cx="657.95" cy="225.83" r="2.88" fill="#ea8d6f"/>
<circle cx="674.25" cy="225.83" r="2.88" fill="#ea8d6f"/>
<circle cx="87.45" cy="238.61" r="2.31" fill="#95c7df"/>
<circle cx="103.75" cy="238.61" r="4.02" fill="#d15548"/>
<circle cx="120.05" cy="238.61" r="4.02" fill="#d15548"/>
<circle cx="136.35" cy="238.61" r="5.16" fill="#2368ad"/>
<circle cx="152.65" cy="238.61" r="1.74" fill="#f8bda1"/>
<circle cx="168.95" cy="238.61" r="2.31" fill="#95c7df"/>
<circle cx="185.25" cy="238.61" r="4.59" fill="#307ab6"/>
<circle cx="201.55" cy="238.61" r="4.02" fill="#d15548"/>
<circle cx="217.85" cy="238.61" r="2.88" fill="#ea8d6f"/>
<circle cx="234.15" cy="238.61" r="5.16" fill="#b41c2d"/>
<circle cx="250.45" cy="238.61" r="2.88" fill="#76b4d5"/>
<circle cx="266.75" cy="238.61" r="2.31" fill="#95c7df"/>
<circle cx="283.05" cy="238.61" r="1.74" fill="#aed3e6"/>
<circle cx="299.35" cy="238.61" r="1.74" fill="#f8bda1"/>
<circle cx="315.65" cy="238.61" r="3.45" fill="#de715a"/>
<circle cx="331.95" cy="238.61" r="4.02" fill="#3e8cc0"/>
<circle cx="348.25" cy="238.61" r="4.02" fill="#d15548"/>
<circle cx="364.55" cy="238.61" r="3.45" fill="#de715a"/>
<circle cx="380.85" cy="238.61" r="4.59" fill="#307ab6"/>
<circle cx="397.15" cy="238.61" r="3.45" fill="#de715a"/>
<circle cx="413.45" cy="238.61" r="4.59" fill="#c2383a"/>
<circle cx="429.75" cy="238.61" r="1.30" fill="#555"/>
<circle cx="446.05" cy="238.61" r="2.31" fill="#95c7df"/>
<circle cx="462.35" cy="238.61" r="4.59" fill="#c2383a"/>
<circle cx="478.65" cy="238.61" r="5.73" fill="#175392"/>
<circle cx="494.95" cy="238.61" r="2.88" fill="#76b4d5"/>
<circle cx="511.25" cy="238.61" r="3.45" fill="#de715a"/>
<circle cx="527.55" cy="238.61" r="2.31" fill="#95c7df"/>
<circle cx="543.85" cy="238.61" r="2.88" fill="#76b4d5"/>
<circle cx="560.15" cy="238.61" r="3.45" fill="#57a0ca"/>
<circle cx="576.45" cy="238.61" r="1.30" fill="#555"/>
<circle cx="592.75" cy="238.61" r="2.31" fill="#95c7df"/>
<circle cx="609.05" cy="238.61" r="5.73" fill="#175392"/>
<circle cx="625.35" cy="238.61" r="3.45" fill="#de715a"/>
<circle cx="641.65" cy="238.61" r="2.88" fill="#76b4d5"/>
<circle cx="657.95" cy="238.61" r="4.59" fill="#c2383a"/>
<circle cx="674.25" cy="238.61" r="4.59" fill="#c2383a"/>
<circle cx="87.45" cy="251.40" r="3.45" fill="#57a0ca"/>
<circle cx="103.75" cy="251.40" r="2.88" fill="#ea8d6f"/>
<circle cx="120.05" cy="251.40" r="4.59" fill="#c2383a"/>
<circle cx="136.35" cy="251.40" r="6.15" fill="#0c3d74"/>
<circle cx="152.65" cy="251.40" r="1.30" fill="#555"/>
<circle cx="168.95" cy="251.40" r="3.45" fill="#57a0ca"/>
<circle cx="185.25" cy="251.40" r="5.73" fill="#175392"/>
<circle cx="201.55" cy="251.40" r="5.73" fill="#981027"/>
<circle cx="217.85" cy="251.40" r="1.30" fill="#555"/>
<circle cx="234.15" cy="251.40" r="4.02" fill="#d15548"/>
<circle cx="250.45" cy="251.40" r="4.02" fill="#3e8cc0"/>
<circle cx="266.75" cy="251.40" r="4.02" fill="#3e8cc0"/>
<circle cx="283.05" cy="251.40" r="3.45" fill="#57a0ca"/>
<circle cx="299.35" cy="251.40" r="1.74" fill="#f8bda1"/>
<circle cx="315.65" cy="251.40" r="5.16" fill="#b41c2d"/>
<circle cx="331.95" cy="251.40" r="2.88" fill="#76b4d5"/>
<circle cx="348.25" cy="251.40" r="2.88" fill="#ea8d6f"/>
<circle cx="364.55" cy="251.40" r="4.02" fill="#d15548"/>
<circle cx="380.85" cy="251.40" r="5.16" fill="#2368ad"/>
<circle cx="397.15" cy="251.40" r="1.74" fill="#f8bda1"/>
<circle cx="413.45" cy="251.40" r="4.59" fill="#c2383a"/>
<circle cx="429.75" cy="251.40" r="1.74" fill="#f8bda1"/>
<circle cx="446.05" cy="251.40" r="2.31" fill="#95c7df"/>
<circle cx="462.35" cy="251.40" r="5.73" fill="#981027"/>
<circle cx="478.65" cy="251.40" r="5.73" fill="#175392"/>
<circle cx="494.95" cy="251.40" r="4.02" fill="#3e8cc0"/>
<circle cx="511.25" cy="251.40" r="2.88" fill="#ea8d6f"/>
<circle cx="527.55" cy="251.40" r="2.88" fill="#76b4d5"/>
<circle cx="543.85" cy="251.40" r="4.02" fill="#3e8cc0"/>
<circle cx="560.15" cy="251.40" r="4.59" fill="#307ab6"/>
<circle cx="576.45" cy="251.40" r="2.88" fill="#ea8d6f"/>
<circle cx="592.75" cy="251.40" r="4.59" fill="#307ab6"/>
<circle cx="609.05" cy="251.40" r="6.15" fill="#0c3d74"/>
<circle cx="625.35" cy="251.40" r="3.45" fill="#de715a"/>
<circle cx="641.65" cy="251.40" r="4.02" fill="#3e8cc0"/>
<circle cx="657.95" cy="251.40" r="4.02" fill="#d15548"/>
<circle cx="674.25" cy="251.40" r="4.02" fill="#d15548"/>
<circle cx="87.45" cy="264.18" r="1.74" fill="#f8bda1"/>
<circle cx="103.75" cy="264.18" r="1.74" fill="#f8bda1"/>
<circle cx="120.05" cy="264.18" r="2.88" fill="#ea8d6f"/>
<circle cx="136.35" cy="264.18" r="1.30" fill="#555"/>
<circle cx="152.65" cy="264.18" r="3.45" fill="#de715a"/>
<circle cx="168.95" cy="264.18" r="5.16" fill="#b41c2d"/>
<circle cx="185.25" cy="264.18" r="2.88" fill="#ea8d6f"/>
<circle cx="201.55" cy="264.18" r="1.30" fill="#555"/>
<circle cx="217.85" cy="264.18" r="5.16" fill="#b41c2d"/>
<circle cx="234.15" cy="264.18" r="1.74" fill="#f8bda1"/>
<circle cx="250.45" cy="264.18" r="3.45" fill="#de715a"/>
<circle cx="266.75" cy="264.18" r="4.02" fill="#d15548"/>
<circle cx="283.05" cy="264.18" r="1.74" fill="#aed3e6"/>
<circle cx="299.35" cy="264.18" r="5.73" fill="#981027"/>
<circle cx="315.65" cy="264.18" r="1.74" fill="#aed3e6"/>
<circle cx="331.95" cy="264.18" r="2.31" fill="#f4a885"/>
<circle cx="348.25" cy="264.18" r="1.74" fill="#f8bda1"/>
<circle cx="364.55" cy="264.18" r="4.02" fill="#d15548"/>
<circle cx="380.85" cy="264.18" r="3.45" fill="#de715a"/>
<circle cx="397.15" cy="264.18" r="4.02" fill="#d15548"/>
<circle cx="413.45" cy="264.18" r="2.31" fill="#f4a885"/>
<circle cx="429.75" cy="264.18" r="2.88" fill="#ea8d6f"/>
<circle cx="446.05" cy="264.18" r="3.45" fill="#de715a"/>
<circle cx="462.35" cy="264.18" r="2.31" fill="#95c7df"/>
<circle cx="478.65" cy="264.18" r="1.74" fill="#f8bda1"/>
<circle cx="494.95" cy="264.18" r="2.31" fill="#f4a885"/>
<circle cx="511.25" cy="264.18" r="2.88" fill="#ea8d6f"/>
<circle cx="527.55" cy="264.18" r="4.02" fill="#d15548"/>
<circle cx="543.85" cy="264.18" r="1.74" fill="#f8bda1"/>
<circle cx="560.15" cy="264.18" r="4.02" fill="#d15548"/>
<circle cx="576.45" cy="264.18" r="2.88" fill="#76b4d5"/>
<circle cx="592.75" cy="264.18" r="3.45" fill="#de715a"/>
<circle cx="609.05" cy="264.18" r="1.74" fill="#f8bda1"/>
<circle cx="625.35" cy="264.18" r="2.88" fill="#ea8d6f"/>
<circle cx="641.65" cy="264.18" r="2.88" fill="#ea8d6f"/>
<circle cx="657.95" cy="264.18" r="2.31" fill="#f4a885"/>
<circle cx="674.25" cy="264.18" r="2.31" fill="#f4a885"/>
<circle cx="87.45" cy="276.96" r="4.02" fill="#d15548"/>
<circle cx="103.75" cy="276.96" r="1.74" fill="#aed3e6"/>
<circle cx="120.05" cy="276.96" r="4.59" fill="#307ab6"/>
<circle cx="136.35" cy="276.96" r="5.73" fill="#981027"/>
<circle cx="152.65" cy="276.96" r="1.30" fill="#555"/>
<circle cx="168.95" cy="276.96" r="2.88" fill="#ea8d6f"/>
<circle cx="185.25" cy="276.96" r="4.59" fill="#c2383a"/>
<circle cx="201.55" cy="276.96" r="4.59" fill="#307ab6"/>
<circle cx="217.85" cy="276.96" r="1.30" fill="#555"/>
<circle cx="234.15" cy="276.96" r="2.88" fill="#76b4d5"/>
<circle cx="250.45" cy="276.96" r="2.88" fill="#ea8d6f"/>
<circle cx="266.75" cy="276.96" r="2.88" fill="#ea8d6f"/>
<circle cx="283.05" cy="276.96" r="4.02" fill="#d15548"/>
<circle cx="299.35" cy="276.96" r="2.31" fill="#95c7df"/>
<circle cx="315.65" cy="276.96" r="4.59" fill="#307ab6"/>
<circle cx="331.95" cy="276.96" r="1.74" fill="#f8bda1"/>
<circle cx="348.25" cy="276.96" r="2.31" fill="#95c7df"/>
<circle cx="364.55" cy="276.96" r="4.59" fill="#307ab6"/>
<circle cx="380.85" cy="276.96" r="4.02" fill="#d15548"/>
<circle cx="397.15" cy="276.96" r="2.31" fill="#95c7df"/>
<circle cx="413.45" cy="276.96" r="3.45" fill="#57a0ca"/>
<circle cx="429.75" cy="276.96" r="2.31" fill="#95c7df"/>
<circle cx="446.05" cy="276.96" r="1.74" fill="#f8bda1"/>
<circle cx="462.35" cy="276.96" r="4.59" fill="#307ab6"/>
<circle cx="478.65" cy="276.96" r="4.59" fill="#c2383a"/>
<circle cx="494.95" cy="276.96" r="4.02" fill="#d15548"/>
<circle cx="511.25" cy="276.96" r="2.88" fill="#76b4d5"/>
<circle cx="527.55" cy="276.96" r="2.31" fill="#f4a885"/>
<circle cx="543.85" cy="276.96" r="3.45" fill="#de715a"/>
<circle cx="560.15" cy="276.96" r="4.02" fill="#d15548"/>
<circle cx="576.45" cy="276.96" r="2.88" fill="#76b4d5"/>
<circle cx="592.75" cy="276.96" r="4.02" fill="#d15548"/>
<circle cx="609.05" cy="276.96" r="4.59" fill="#c2383a"/>
<circle cx="625.35" cy="276.96" r="3.45" fill="#57a0ca"/>
<circle cx="641.65" cy="276.96" r="4.02" fill="#d15548"/>
<circle cx="657.95" cy="276.96" r="3.45" fill="#57a0ca"/>
<circle cx="674.25" cy="276.96" r="3.45" fill="#57a0ca"/>
<circle cx="87.45" cy="289.74" r="2.31" fill="#95c7df"/>
<circle cx="103.75" cy="289.74" r="4.59" fill="#307ab6"/>
<circle cx="120.05" cy="289.74" r="2.31" fill="#95c7df"/>
<circle cx="136.35" cy="289.74" r="2.31" fill="#f4a885"/>
<circle cx="152.65" cy="289.74" r="2.31" fill="#95c7df"/>
<circle cx="168.95" cy="289.74" r="1.74" fill="#f8bda1"/>
<circle cx="185.25" cy="289.74" r="2.31" fill="#f4a885"/>
<circle cx="201.55" cy="289.74" r="2.31" fill="#95c7df"/>
<circle cx="217.85" cy="289.74" r="1.74" fill="#aed3e6"/>
<circle cx="234.15" cy="289.74" r="4.02" fill="#3e8cc0"/>
<circle cx="250.45" cy="289.74" r="1.74" fill="#f8bda1"/>
<circle cx="266.75" cy="289.74" r="1.30" fill="#555"/>
<circle cx="283.05" cy="289.74" r="1.74" fill="#f8bda1"/>
<circle cx="299.35" cy="289.74" r="1.74" fill="#aed3e6"/>
<circle cx="315.65" cy="289.74" r="1.74" fill="#aed3e6"/>
<circle cx="331.95" cy="289.74" r="5.73" fill="#981027"/>
<circle cx="348.25" cy="289.74" r="4.59" fill="#307ab6"/>
<circle cx="364.55" cy="289.74" r="1.74" fill="#aed3e6"/>
<circle cx="380.85" cy="289.74" r="2.31" fill="#f4a885"/>
<circle cx="397.15" cy="289.74" r="2.88" fill="#76b4d5"/>
<circle cx="413.45" cy="289.74" r="4.02" fill="#3e8cc0"/>
<circle cx="429.75" cy="289.74" r="1.30" fill="#555"/>
<circle cx="446.05" cy="289.74" r="1.30" fill="#555"/>
<circle cx="462.35" cy="289.74" r="2.88" fill="#76b4d5"/>
<circle cx="478.65" cy="289.74" r="2.88" fill="#ea8d6f"/>
<circle cx="494.95" cy="289.74" r="1.74" fill="#aed3e6"/>
<circle cx="511.25" cy="289.74" r="3.45" fill="#57a0ca"/>
<circle cx="527.55" cy="289.74" r="2.31" fill="#f4a885"/>
<circle cx="543.85" cy="289.74" r="2.31" fill="#f4a885"/>
<circle cx="560.15" cy="289.74" r="1.74" fill="#f8bda1"/>
<circle cx="576.45" cy="289.74" r="1.30" fill="#555"/>
<circle cx="592.75" cy="289.74" r="1.30" fill="#555"/>
<circle cx="609.05" cy="289.74" r="3.45" fill="#de715a"/>
<circle cx="625.35" cy="289.74" r="3.45" fill="#57a0ca"/>
<circle cx="641.65" cy="289.74" r="1.30" fill="#555"/>
<circle cx="657.95" cy="289.74" r="4.02" fill="#3e8cc0"/>
<circle cx="674.25" cy="289.74" r="4.02" fill="#3e8cc0"/>
<circle cx="87.45" cy="302.53" r="1.74" fill="#aed3e6"/>
<circle cx="103.75" cy="302.53" r="5.16" fill="#2368ad"/>
<circle cx="120.05" cy="302.53" r="3.45" fill="#57a0ca"/>
<circle cx="136.35" cy="302.53" r="2.88" fill="#ea8d6f"/>
<circle cx="152.65" cy="302.53" r="1.74" fill="#aed3e6"/>
<circle cx="168.95" cy="302.53" r="1.74" fill="#f8bda1"/>
<circle cx="185.25" cy="302.53" r="3.45" fill="#de715a"/>
<circle cx="201.55" cy="302.53" r="2.88" fill="#76b4d5"/>
<circle cx="217.85" cy="302.53" r="1.74" fill="#aed3e6"/>
<circle cx="234.15" cy="302.53" r="5.16" fill="#2368ad"/>
<circle cx="250.45" cy="302.53" r="1.74" fill="#f8bda1"/>
<circle cx="266.75" cy="302.53" r="1.30" fill="#555"/>
<circle cx="283.05" cy="302.53" r="1.74" fill="#f8bda1"/>
<circle cx="299.35" cy="302.53" r="1.74" fill="#aed3e6"/>
<circle cx="315.65" cy="302.53" r="1.74" fill="#aed3e6"/>
<circle cx="331.95" cy="302.53" r="5.73" fill="#981027"/>
<circle cx="348.25" cy="302.53" r="5.73" fill="#175392"/>
<circle cx="364.55" cy="302.53" r="2.31" fill="#95c7df"/>
<circle cx="380.85" cy="302.53" r="3.45" fill="#de715a"/>
<circle cx="397.15" cy="302.53" r="3.45" fill="#57a0ca"/>
<circle cx="413.45" cy="302.53" r="4.59" fill="#307ab6"/>
<circle cx="429.75" cy="302.53" r="1.30" fill="#555"/>
<circle cx="446.05" cy="302.53" r="1.30" fill="#555"/>
<circle cx="462.35" cy="302.53" r="4.02" fill="#3e8cc0"/>
<circle cx="478.65" cy="302.53" r="4.02" fill="#d15548"/>
<circle cx="494.95" cy="302.53" r="1.74" fill="#aed3e6"/>
<circle cx="511.25" cy="302.53" r="4.59" fill="#307ab6"/>
<circle cx="527.55" cy="302.53" r="2.31" fill="#f4a885"/>
<circle cx="543.85" cy="302.53" r="2.88" fill="#ea8d6f"/>
<circle cx="560.15" cy="302.53" r="2.31" fill="#f4a885"/>
<circle cx="576.45" cy="302.53" r="1.74" fill="#aed3e6"/>
<circle cx="592.75" cy="302.53" r="1.30" fill="#555"/>
<circle cx="609.05" cy="302.53" r="4.59" fill="#c2383a"/>
<circle cx="625.35" cy="302.53" r="4.02" fill="#3e8cc0"/>
<circle cx="641.65" cy="302.53" r="2.31" fill="#f4a885"/>
<circle cx="657.95" cy="302.53" r="4.59" fill="#307ab6"/>
<circle cx="674.25" cy="302.53" r="4.59" fill="#307ab6"/>
<circle cx="87.45" cy="315.31" r="2.31" fill="#f4a885"/>
<circle cx="103.75" cy="315.31" r="3.45" fill="#57a0ca"/>
<circle cx="120.05" cy="315.31" r="4.02" fill="#3e8cc0"/>
<circle cx="136.35" cy="315.31" r="5.16" fill="#b41c2d"/>
<circle cx="152.65" cy="315.31" r="1.30" fill="#555"/>
<circle cx="168.95" cy="315.31" r="4.59" fill="#c2383a"/>
<circle cx="185.25" cy="315.31" r="5.73" fill="#981027"/>
<circle cx="201.55" cy="315.31" r="5.73" fill="#175392"/>
<circle cx="217.85" cy="315.31" r="1.74" fill="#f8bda1"/>
<circle cx="234.15" cy="315.31" r="4.59" fill="#307ab6"/>
<circle cx="250.45" cy="315.31" r="4.02" fill="#d15548"/>
<circle cx="266.75" cy="315.31" r="4.02" fill="#d15548"/>
<circle cx="283.05" cy="315.31" r="3.45" fill="#de715a"/>
<circle cx="299.35" cy="315.31" r="1.30" fill="#555"/>
<circle cx="315.65" cy="315.31" r="3.45" fill="#57a0ca"/>
<circle cx="331.95" cy="315.31" r="5.73" fill="#981027"/>
<circle cx="348.25" cy="315.31" r="4.02" fill="#3e8cc0"/>
<circle cx="364.55" cy="315.31" r="2.88" fill="#76b4d5"/>
<circle cx="380.85" cy="315.31" r="5.16" fill="#b41c2d"/>
<circle cx="397.15" cy="315.31" r="2.31" fill="#95c7df"/>
<circle cx="413.45" cy="315.31" r="4.59" fill="#307ab6"/>
<circle cx="429.75" cy="315.31" r="1.74" fill="#aed3e6"/>
<circle cx="446.05" cy="315.31" r="1.74" fill="#f8bda1"/>
<circle cx="462.35" cy="315.31" r="6.15" fill="#0c3d74"/>
<circle cx="478.65" cy="315.31" r="5.73" fill="#981027"/>
<circle cx="494.95" cy="315.31" r="2.31" fill="#f4a885"/>
<circle cx="511.25" cy="315.31" r="3.45" fill="#57a0ca"/>
<circle cx="527.55" cy="315.31" r="4.59" fill="#c2383a"/>
<circle cx="543.85" cy="315.31" r="5.16" fill="#b41c2d"/>
<circle cx="560.15" cy="315.31" r="4.59" fill="#c2383a"/>
<circle cx="576.45" cy="315.31" r="4.02" fill="#3e8cc0"/>
<circle cx="592.75" cy="315.31" r="4.02" fill="#d15548"/>
<circle cx="609.05" cy="315.31" r="5.73" fill="#981027"/>
<circle cx="625.35" cy="315.31" r="4.02" fill="#3e8cc0"/>
<circle cx="641.65" cy="315.31" r="4.59" fill="#c2383a"/>
<circle cx="657.95" cy="315.31" r="4.59" fill="#307ab6"/>
<circle cx="674.25" cy="315.31" r="4.59" fill="#307ab6"/>
</g>
<g fill="#fff">
<rect x="117.95" y="33.49" width="4.20" height="1.9" rx="0.6"/>
<rect x="134.25" y="33.49" width="4.20" height="1.9" rx="0.6"/>
<rect x="199.45" y="33.49" width="4.20" height="1.9" rx="0.6"/>
<rect x="313.55" y="33.49" width="4.20" height="1.9" rx="0.6"/>
<rect x="362.45" y="33.49" width="4.20" height="1.9" rx="0.6"/>
<rect x="101.65" y="46.27" width="4.20" height="1.9" rx="0.6"/>
<rect x="232.05" y="46.27" width="4.20" height="1.9" rx="0.6"/>
<rect x="672.15" y="46.27" width="4.20" height="1.9" rx="0.6"/>
<rect x="329.85" y="59.06" width="4.20" height="1.9" rx="0.6"/>
<rect x="476.55" y="59.06" width="4.20" height="1.9" rx="0.6"/>
<rect x="606.95" y="59.06" width="4.20" height="1.9" rx="0.6"/>
<rect x="329.85" y="71.84" width="4.20" height="1.9" rx="0.6"/>
<rect x="606.95" y="71.84" width="4.20" height="1.9" rx="0.6"/>
<rect x="85.35" y="84.62" width="4.20" height="1.9" rx="0.6"/>
<rect x="232.05" y="97.40" width="4.20" height="1.9" rx="0.6"/>
<rect x="395.05" y="97.40" width="4.20" height="1.9" rx="0.6"/>
<rect x="411.35" y="97.40" width="4.20" height="1.9" rx="0.6"/>
<rect x="655.85" y="97.40" width="4.20" height="1.9" rx="0.6"/>
<rect x="672.15" y="97.40" width="4.20" height="1.9" rx="0.6"/>
<rect x="101.65" y="110.19" width="4.20" height="1.9" rx="0.6"/>
<rect x="231.15" y="110.19" width="6.00" height="1.9" rx="0.6"/>
<rect x="411.35" y="110.19" width="4.20" height="1.9" rx="0.6"/>
<rect x="475.65" y="110.19" width="6.00" height="1.9" rx="0.6"/>
<rect x="606.95" y="110.19" width="4.20" height="1.9" rx="0.6"/>
<rect x="654.95" y="110.19" width="6.00" height="1.9" rx="0.6"/>
<rect x="671.25" y="110.19" width="6.00" height="1.9" rx="0.6"/>
<rect x="85.35" y="122.97" width="4.20" height="1.9" rx="0.6"/>
<rect x="133.35" y="135.75" width="6.00" height="1.9" rx="0.6"/>
<rect x="199.45" y="135.75" width="4.20" height="1.9" rx="0.6"/>
<rect x="264.65" y="135.75" width="4.20" height="1.9" rx="0.6"/>
<rect x="312.65" y="135.75" width="6.00" height="1.9" rx="0.6"/>
<rect x="590.65" y="135.75" width="4.20" height="1.9" rx="0.6"/>
<rect x="329.85" y="148.53" width="4.20" height="1.9" rx="0.6"/>
<rect x="346.15" y="148.53" width="4.20" height="1.9" rx="0.6"/>
<rect x="411.35" y="148.53" width="4.20" height="1.9" rx="0.6"/>
<rect x="606.95" y="148.53" width="4.20" height="1.9" rx="0.6"/>
<rect x="166.85" y="161.32" width="4.20" height="1.9" rx="0.6"/>
<rect x="297.25" y="161.32" width="4.20" height="1.9" rx="0.6"/>
<rect x="443.05" y="161.32" width="6.00" height="1.9" rx="0.6"/>
<rect x="492.85" y="161.32" width="4.20" height="1.9" rx="0.6"/>
<rect x="150.55" y="174.10" width="4.20" height="1.9" rx="0.6"/>
<rect x="427.65" y="174.10" width="4.20" height="1.9" rx="0.6"/>
<rect x="133.35" y="225.23" width="6.00" height="1.9" rx="0.6"/>
<rect x="183.15" y="225.23" width="4.20" height="1.9" rx="0.6"/>
<rect x="199.45" y="225.23" width="4.20" height="1.9" rx="0.6"/>
<rect x="313.55" y="225.23" width="4.20" height="1.9" rx="0.6"/>
<rect x="606.95" y="225.23" width="4.20" height="1.9" rx="0.6"/>
<rect x="476.55" y="238.01" width="4.20" height="1.9" rx="0.6"/>
<rect x="606.95" y="238.01" width="4.20" height="1.9" rx="0.6"/>
<rect x="133.35" y="250.80" width="6.00" height="1.9" rx="0.6"/>
<rect x="183.15" y="250.80" width="4.20" height="1.9" rx="0.6"/>
<rect x="199.45" y="250.80" width="4.20" height="1.9" rx="0.6"/>
<rect x="460.25" y="250.80" width="4.20" height="1.9" rx="0.6"/>
<rect x="476.55" y="250.80" width="4.20" height="1.9" rx="0.6"/>
<rect x="606.05" y="250.80" width="6.00" height="1.9" rx="0.6"/>
<rect x="297.25" y="263.58" width="4.20" height="1.9" rx="0.6"/>
<rect x="134.25" y="276.36" width="4.20" height="1.9" rx="0.6"/>
<rect x="329.85" y="289.14" width="4.20" height="1.9" rx="0.6"/>
<rect x="329.85" y="301.93" width="4.20" height="1.9" rx="0.6"/>
<rect x="346.15" y="301.93" width="4.20" height="1.9" rx="0.6"/>
<rect x="183.15" y="314.71" width="4.20" height="1.9" rx="0.6"/>
<rect x="199.45" y="314.71" width="4.20" height="1.9" rx="0.6"/>
<rect x="329.85" y="314.71" width="4.20" height="1.9" rx="0.6"/>
<rect x="459.35" y="314.71" width="6.00" height="1.9" rx="0.6"/>
<rect x="476.55" y="314.71" width="4.20" height="1.9" rx="0.6"/>
<rect x="606.95" y="314.71" width="4.20" height="1.9" rx="0.6"/>
</g>
<g class="ser" font-size="9" font-style="italic" font-weight="bold" text-anchor="end">
<text x="74.3" y="38.09">gtfA</text>
<text x="74.3" y="50.87">gtfB</text>
<text x="74.3" y="63.66">gtfC</text>
<text x="74.3" y="76.44">stsR</text>
<text x="74.3" y="89.22">gbpA</text>
<text x="74.3" y="102.00">gbpB</text>
<text x="74.3" y="114.79">gbpC</text>
<text x="74.3" y="127.57">eno</text>
<text x="74.3" y="140.35">ldh</text>
<text x="74.3" y="153.13">scrB</text>
<text x="74.3" y="165.92">aguA</text>
<text x="74.3" y="178.70">aguB</text>
<text x="74.3" y="191.48">atpA</text>
<text x="74.3" y="204.27">atpB</text>
<text x="74.3" y="217.05">atpD</text>
<text x="74.3" y="229.83">atpF</text>
<text x="74.3" y="242.61">comD</text>
<text x="74.3" y="255.40">vicK</text>
<text x="74.3" y="268.18">vicR</text>
<text x="74.3" y="280.96">luxS</text>
<text x="74.3" y="293.74">ciaH</text>
<text x="74.3" y="306.53">ciaR</text>
<text x="74.3" y="319.31">ciaX</text>
</g>
<g class="ser" font-size="9.1" text-anchor="end" fill="#2a2a2a">
<text transform="translate(89.45 330.20) rotate(-45)">Sucrose</text>
<text transform="translate(105.75 330.20) rotate(-45)">D-glucose 6-phosphate</text>
<text transform="translate(122.05 330.20) rotate(-45)">D-Fructose</text>
<text transform="translate(138.35 330.20) rotate(-45)">Cellobiose</text>
<text transform="translate(154.65 330.20) rotate(-45)">Maltose</text>
<text transform="translate(170.95 330.20) rotate(-45)">Arbutin</text>
<text transform="translate(187.25 330.20) rotate(-45)">Salicin</text>
<text transform="translate(203.55 330.20) rotate(-45)">Phosphoenolpyruvate</text>
<text transform="translate(219.85 330.20) rotate(-45)">Pyruvate</text>
<text transform="translate(236.15 330.20) rotate(-45)">Acetyl-coa</text>
<text transform="translate(252.45 330.20) rotate(-45)">Succinate</text>
<text transform="translate(268.75 330.20) rotate(-45)">3-Phospho-D-glycerate</text>
<text transform="translate(285.05 330.20) rotate(-45)">Glutathione</text>
<text transform="translate(301.35 330.20) rotate(-45)">L-Serine</text>
<text transform="translate(317.65 330.20) rotate(-45)">O-acetyl-l-serine</text>
<text transform="translate(333.95 330.20) rotate(-45)">L-Alanine</text>
<text transform="translate(350.25 330.20) rotate(-45)">Ophthalmate</text>
<text transform="translate(366.55 330.20) rotate(-45)">S-adenosyl-l-homocysteine</text>
<text transform="translate(382.85 330.20) rotate(-45)">L-methionine</text>
<text transform="translate(399.15 330.20) rotate(-45)">S-adenosyl-l-methionine</text>
<text transform="translate(415.45 330.20) rotate(-45)">S-methyl-5&#39;-thioadenosine</text>
<text transform="translate(431.75 330.20) rotate(-45)">N-acetyl-d-galactosamine</text>
<text transform="translate(448.05 330.20) rotate(-45)">Stachyose</text>
<text transform="translate(464.35 330.20) rotate(-45)">Raffinose</text>
<text transform="translate(480.65 330.20) rotate(-45)">Lactose</text>
<text transform="translate(496.95 330.20) rotate(-45)">Myo-inositol</text>
<text transform="translate(513.25 330.20) rotate(-45)">D-sorbitol</text>
<text transform="translate(529.55 330.20) rotate(-45)">D-Mannose</text>
<text transform="translate(545.85 330.20) rotate(-45)">Glycerol</text>
<text transform="translate(562.15 330.20) rotate(-45)">N-acetyl-l-glutamate</text>
<text transform="translate(578.45 330.20) rotate(-45)">Ornithine</text>
<text transform="translate(594.75 330.20) rotate(-45)">Arginine</text>
<text transform="translate(611.05 330.20) rotate(-45)">Creatine</text>
<text transform="translate(627.35 330.20) rotate(-45)">Sarcosine</text>
<text transform="translate(643.65 330.20) rotate(-45)">Agmatine</text>
<text transform="translate(659.95 330.20) rotate(-45)">NAD</text>
<text transform="translate(676.25 330.20) rotate(-45)">Adenosine 5&#39;-diphosphate</text>
</g>
<text x="2.5" y="431" class="ser" font-weight="bold" font-size="16">B</text>
<text x="30.7" y="459.3" class="ser lg" font-size="12">connectedness</text>
<rect x="32.7" y="464.4" width="87.9" height="14.3" fill="url(#cbCon)"/>
<g class="ser lg" font-size="12" text-anchor="middle">
<text x="31.7" y="493">0</text><text x="75.6" y="493">4</text><text x="118.5" y="493">8</text>
<text x="138" y="491">-1</text><text x="182" y="491">0</text><text x="225.5" y="491">1</text>
</g>
<text x="136.9" y="459.4" class="ser lg" font-size="12">cor</text>
<rect x="138.6" y="464" width="88.1" height="14.5" fill="url(#cbCor)"/>
<polygon points="39.1,500.1 31.1,515.4 47.2,515.4" fill="#2c4fb0" stroke="#1a2a55" stroke-width="0.8"/>
<polygon points="39.00,526.80 41.47,531.80 46.99,532.60 42.99,536.50 43.94,542.00 39.00,539.40 34.06,542.00 35.01,536.50 31.01,532.60 36.53,531.80" fill="#2c4fb0" stroke="#1a2a55" stroke-width="0.8"/>
<text x="59.7" y="511" class="ser lg" font-size="12">Gene</text>
<text x="60" y="538.8" class="ser lg" font-size="12">Metabolite</text>
<line x1="138.1" x2="167.6" y1="509.1" y2="509.1" stroke="#0d1450" stroke-width="4" stroke-dasharray="4.9 4.2"/>
<line x1="138.4" x2="166.9" y1="537.7" y2="537.7" stroke="#e04545" stroke-width="3.8"/>
<text x="176.7" y="511.5" class="ser lg" font-size="12">negative correlation</text>
<text x="176.7" y="539.5" class="ser lg" font-size="12">positive correlation</text>
<g fill="none">
<line x1="79.4" y1="623.6" x2="129.9" y2="641.1" stroke="#ec9090" stroke-width="1.05"/>
<line x1="87.0" y1="665.3" x2="129.9" y2="641.1" stroke="#ec9090" stroke-width="1.05"/>
<line x1="129.9" y1="641.1" x2="170.8" y2="731.8" stroke="#ec9090" stroke-width="1.05"/>
<line x1="129.9" y1="641.1" x2="193.4" y2="697.4" stroke="#8d9cb8" stroke-width="0.9" stroke-dasharray="2 1.6"/>
<line x1="129.9" y1="641.1" x2="207.9" y2="670.8" stroke="#d6cf8c" stroke-width="0.9" stroke-dasharray="2 1.6"/>
<line x1="128.7" y1="676.4" x2="201.3" y2="643.0" stroke="#ec9090" stroke-width="1.05"/>
<line x1="128.7" y1="676.4" x2="207.9" y2="670.8" stroke="#ec9090" stroke-width="1.05"/>
<line x1="128.7" y1="676.4" x2="193.4" y2="697.4" stroke="#ec9090" stroke-width="1.05"/>
<line x1="128.7" y1="676.4" x2="217.7" y2="717.5" stroke="#ec9090" stroke-width="1.05"/>
<line x1="128.7" y1="676.4" x2="100.7" y2="710.7" stroke="#ec9090" stroke-width="1.05"/>
<line x1="128.7" y1="676.4" x2="170.8" y2="731.8" stroke="#d6cf8c" stroke-width="0.9" stroke-dasharray="2 1.6"/>
<line x1="124.8" y1="736.3" x2="170.8" y2="731.8" stroke="#ec9090" stroke-width="1.05"/>
<line x1="170.8" y1="731.8" x2="217.7" y2="717.5" stroke="#8d9cb8" stroke-width="0.9" stroke-dasharray="2 1.6"/>
<line x1="170.8" y1="731.8" x2="251.4" y2="728.9" stroke="#8d9cb8" stroke-width="0.9" stroke-dasharray="2 1.6"/>
<line x1="201.3" y1="643.0" x2="262.0" y2="643.9" stroke="#d6cf8c" stroke-width="0.9" stroke-dasharray="2 1.6"/>
<line x1="207.9" y1="670.8" x2="262.0" y2="643.9" stroke="#d6cf8c" stroke-width="0.9" stroke-dasharray="2 1.6"/>
<line x1="207.9" y1="670.8" x2="217.7" y2="717.5" stroke="#ec9090" stroke-width="1.05"/>
<line x1="207.9" y1="670.8" x2="251.4" y2="728.9" stroke="#ec9090" stroke-width="1.05"/>
<line x1="207.9" y1="670.8" x2="279.0" y2="740.9" stroke="#8d9cb8" stroke-width="0.9" stroke-dasharray="2 1.6"/>
<line x1="193.4" y1="697.4" x2="217.7" y2="717.5" stroke="#ec9090" stroke-width="1.05"/>
<line x1="193.4" y1="697.4" x2="279.0" y2="740.9" stroke="#ec9090" stroke-width="1.05"/>
<line x1="217.7" y1="717.5" x2="294.7" y2="776.8" stroke="#ec9090" stroke-width="1.05"/>
<line x1="217.7" y1="717.5" x2="183.3" y2="763.8" stroke="#d6cf8c" stroke-width="0.9" stroke-dasharray="2 1.6"/>
<line x1="217.7" y1="717.5" x2="234.9" y2="774.5" stroke="#d6cf8c" stroke-width="0.9" stroke-dasharray="2 1.6"/>
<line x1="217.7" y1="717.5" x2="324.3" y2="687.9" stroke="#8d9cb8" stroke-width="0.9" stroke-dasharray="2 1.6"/>
<line x1="251.4" y1="728.9" x2="234.9" y2="774.5" stroke="#d6cf8c" stroke-width="0.9" stroke-dasharray="2 1.6"/>
<line x1="279.0" y1="740.9" x2="234.9" y2="774.5" stroke="#ec9090" stroke-width="1.05"/>
<line x1="279.0" y1="740.9" x2="294.7" y2="776.8" stroke="#8d9cb8" stroke-width="0.9" stroke-dasharray="2 1.6"/>
<line x1="279.0" y1="740.9" x2="320.0" y2="731.8" stroke="#ec9090" stroke-width="1.05"/>
<line x1="279.0" y1="740.9" x2="259.7" y2="684.8" stroke="#ec9090" stroke-width="1.05"/>
<line x1="279.0" y1="740.9" x2="384.0" y2="637.4" stroke="#ec9090" stroke-width="1.05"/>
<line x1="320.0" y1="731.8" x2="333.9" y2="766.3" stroke="#ec9090" stroke-width="1.05"/>
<line x1="320.0" y1="731.8" x2="375.3" y2="751.2" stroke="#ec9090" stroke-width="1.05"/>
<line x1="320.0" y1="731.8" x2="402.6" y2="668.0" stroke="#ec9090" stroke-width="1.05"/>
<line x1="251.4" y1="728.9" x2="324.3" y2="687.9" stroke="#d6cf8c" stroke-width="0.9" stroke-dasharray="2 1.6"/>
<line x1="262.0" y1="643.9" x2="324.3" y2="687.9" stroke="#ec9090" stroke-width="1.05"/>
<line x1="262.0" y1="643.9" x2="320.0" y2="731.8" stroke="#ec9090" stroke-width="1.05"/>
<line x1="306.4" y1="640.9" x2="324.3" y2="687.9" stroke="#d6cf8c" stroke-width="0.9" stroke-dasharray="2 1.6"/>
<line x1="306.4" y1="640.9" x2="259.7" y2="684.8" stroke="#d6cf8c" stroke-width="0.9" stroke-dasharray="2 1.6"/>
<line x1="306.4" y1="640.9" x2="320.0" y2="731.8" stroke="#d6cf8c" stroke-width="0.9" stroke-dasharray="2 1.6"/>
<line x1="353.0" y1="630.5" x2="259.7" y2="684.8" stroke="#8d9cb8" stroke-width="0.9" stroke-dasharray="2 1.6"/>
<line x1="353.0" y1="663.7" x2="259.7" y2="684.8" stroke="#d6cf8c" stroke-width="0.9" stroke-dasharray="2 1.6"/>
<line x1="353.0" y1="663.7" x2="324.3" y2="687.9" stroke="#d6cf8c" stroke-width="0.9" stroke-dasharray="2 1.6"/>
<line x1="402.6" y1="668.0" x2="324.3" y2="687.9" stroke="#ec9090" stroke-width="1.05"/>
<line x1="324.3" y1="687.9" x2="373.3" y2="712.4" stroke="#8d9cb8" stroke-width="0.9" stroke-dasharray="2 1.6"/>
<line x1="373.3" y1="712.4" x2="259.7" y2="684.8" stroke="#d6cf8c" stroke-width="0.9" stroke-dasharray="2 1.6"/>
<line x1="353.0" y1="630.5" x2="440.3" y2="545.3" stroke="#ec9090" stroke-width="1.05"/>
<line x1="353.0" y1="630.5" x2="494.9" y2="562.8" stroke="#ec9090" stroke-width="1.05"/>
<line x1="353.0" y1="630.5" x2="425.0" y2="609.6" stroke="#ec9090" stroke-width="1.05"/>
<line x1="353.0" y1="630.5" x2="374.4" y2="591.0" stroke="#ec9090" stroke-width="1.05"/>
<line x1="353.0" y1="630.5" x2="384.0" y2="637.4" stroke="#ec9090" stroke-width="1.05"/>
<line x1="353.0" y1="630.5" x2="465.0" y2="679.0" stroke="#ec9090" stroke-width="1.05"/>
<line x1="353.0" y1="663.7" x2="440.3" y2="545.3" stroke="#ec9090" stroke-width="1.05"/>
<line x1="353.0" y1="663.7" x2="494.9" y2="562.8" stroke="#ec9090" stroke-width="1.05"/>
<line x1="353.0" y1="663.7" x2="425.0" y2="609.6" stroke="#ec9090" stroke-width="1.05"/>
<line x1="353.0" y1="663.7" x2="465.0" y2="679.0" stroke="#ec9090" stroke-width="1.05"/>
<line x1="402.6" y1="668.0" x2="465.0" y2="679.0" stroke="#d6cf8c" stroke-width="0.9" stroke-dasharray="2 1.6"/>
<line x1="402.6" y1="668.0" x2="430.9" y2="717.3" stroke="#d6cf8c" stroke-width="0.9" stroke-dasharray="2 1.6"/>
<line x1="494.8" y1="607.2" x2="482.6" y2="503.2" stroke="#d6cf8c" stroke-width="0.9" stroke-dasharray="2 1.6"/>
<line x1="494.8" y1="607.2" x2="494.9" y2="562.8" stroke="#d6cf8c" stroke-width="0.9" stroke-dasharray="2 1.6"/>
<line x1="494.8" y1="607.2" x2="440.3" y2="545.3" stroke="#d6cf8c" stroke-width="0.9" stroke-dasharray="2 1.6"/>
<line x1="494.8" y1="607.2" x2="374.4" y2="591.0" stroke="#d6cf8c" stroke-width="0.9" stroke-dasharray="2 1.6"/>
<line x1="494.8" y1="607.2" x2="425.0" y2="609.6" stroke="#d6cf8c" stroke-width="0.9" stroke-dasharray="2 1.6"/>
<line x1="494.8" y1="607.2" x2="384.0" y2="637.4" stroke="#d6cf8c" stroke-width="0.9" stroke-dasharray="2 1.6"/>
<line x1="494.8" y1="607.2" x2="465.0" y2="679.0" stroke="#d6cf8c" stroke-width="0.9" stroke-dasharray="2 1.6"/>
<line x1="430.9" y1="717.3" x2="375.3" y2="751.2" stroke="#d6cf8c" stroke-width="0.9" stroke-dasharray="2 1.6"/>
<line x1="574.8" y1="579.2" x2="610.9" y2="553.2" stroke="#d6cf8c" stroke-width="0.9" stroke-dasharray="2 1.6"/>
<line x1="574.8" y1="579.2" x2="610.2" y2="592.8" stroke="#d6cf8c" stroke-width="0.9" stroke-dasharray="2 1.6"/>
<line x1="642.8" y1="630.0" x2="630.1" y2="666.2" stroke="#d6cf8c" stroke-width="0.9" stroke-dasharray="2 1.6"/>
<line x1="630.1" y1="666.2" x2="664.9" y2="660.3" stroke="#ec9090" stroke-width="1.05"/>
<line x1="630.1" y1="666.2" x2="649.7" y2="702.2" stroke="#ec9090" stroke-width="1.05"/>
<line x1="518.5" y1="747.5" x2="554.5" y2="715.5" stroke="#d6cf8c" stroke-width="0.9" stroke-dasharray="2 1.6"/>
<line x1="518.5" y1="747.5" x2="564.0" y2="746.2" stroke="#8d9cb8" stroke-width="0.9" stroke-dasharray="2 1.6"/>
<line x1="518.5" y1="747.5" x2="550.0" y2="777.2" stroke="#d6cf8c" stroke-width="0.9" stroke-dasharray="2 1.6"/>
<line x1="518.5" y1="747.5" x2="515.9" y2="786.4" stroke="#d6cf8c" stroke-width="0.9" stroke-dasharray="2 1.6"/>
<line x1="461.5" y1="781.2" x2="515.9" y2="786.4" stroke="#ec9090" stroke-width="1.05"/>
</g>
<polygon points="129.90,633.80 122.10,648.40 137.70,648.40" fill="#5b8ee0" stroke="#667" stroke-width="0.7"/>
<polygon points="128.70,669.10 120.90,683.70 136.50,683.70" fill="#5b8ee0" stroke="#667" stroke-width="0.7"/>
<polygon points="124.80,729.00 117.00,743.60 132.60,743.60" fill="#d5eff7" stroke="#667" stroke-width="0.7"/>
<polygon points="262.00,636.60 254.20,651.20 269.80,651.20" fill="#86b3ec" stroke="#667" stroke-width="0.7"/>
<polygon points="306.40,633.60 298.60,648.20 314.20,648.20" fill="#86b3ec" stroke="#667" stroke-width="0.7"/>
<polygon points="353.00,623.20 345.20,637.80 360.80,637.80" fill="#1f3a8c" stroke="#667" stroke-width="0.7"/>
<polygon points="353.00,656.40 345.20,671.00 360.80,671.00" fill="#679be6" stroke="#667" stroke-width="0.7"/>
<polygon points="402.60,660.70 394.80,675.30 410.40,675.30" fill="#4f86dc" stroke="#667" stroke-width="0.7"/>
<polygon points="217.70,710.20 209.90,724.80 225.50,724.80" fill="#2b55c0" stroke="#667" stroke-width="0.7"/>
<polygon points="251.40,721.60 243.60,736.20 259.20,736.20" fill="#3868cc" stroke="#667" stroke-width="0.7"/>
<polygon points="279.00,733.60 271.20,748.20 286.80,748.20" fill="#3868cc" stroke="#667" stroke-width="0.7"/>
<polygon points="373.30,705.10 365.50,719.70 381.10,719.70" fill="#a9cdf1" stroke="#667" stroke-width="0.7"/>
<polygon points="375.30,743.90 367.50,758.50 383.10,758.50" fill="#a9cdf1" stroke="#667" stroke-width="0.7"/>
<polygon points="333.90,759.00 326.10,773.60 341.70,773.60" fill="#d5eff7" stroke="#667" stroke-width="0.7"/>
<polygon points="494.80,599.90 487.00,614.50 502.60,614.50" fill="#2b55c0" stroke="#667" stroke-width="0.7"/>
<polygon points="574.80,571.90 567.00,586.50 582.60,586.50" fill="#a9cdf1" stroke="#667" stroke-width="0.7"/>
<polygon points="642.80,622.70 635.00,637.30 650.60,637.30" fill="#d5eff7" stroke="#667" stroke-width="0.7"/>
<polygon points="664.90,653.00 657.10,667.60 672.70,667.60" fill="#d5eff7" stroke="#667" stroke-width="0.7"/>
<polygon points="649.70,694.90 641.90,709.50 657.50,709.50" fill="#d5eff7" stroke="#667" stroke-width="0.7"/>
<polygon points="518.50,740.20 510.70,754.80 526.30,754.80" fill="#5b8ee0" stroke="#667" stroke-width="0.7"/>
<polygon points="461.50,773.90 453.70,788.50 469.30,788.50" fill="#d5eff7" stroke="#667" stroke-width="0.7"/>
<polygon points="79.40,615.80 82.34,620.05 87.29,621.54 84.16,625.65 84.28,630.81 79.40,629.10 74.52,630.81 74.64,625.65 71.51,621.54 76.46,620.05" fill="#d5eff7" stroke="#6a7580" stroke-width="0.8"/>
<polygon points="87.00,657.50 89.94,661.75 94.89,663.24 91.76,667.35 91.88,672.51 87.00,670.80 82.12,672.51 82.24,667.35 79.11,663.24 84.06,661.75" fill="#d5eff7" stroke="#6a7580" stroke-width="0.8"/>
<polygon points="100.70,702.90 103.64,707.15 108.59,708.64 105.46,712.75 105.58,717.91 100.70,716.20 95.82,717.91 95.94,712.75 92.81,708.64 97.76,707.15" fill="#d5eff7" stroke="#6a7580" stroke-width="0.8"/>
<polygon points="170.80,724.00 173.74,728.25 178.69,729.74 175.56,733.85 175.68,739.01 170.80,737.30 165.92,739.01 166.04,733.85 162.91,729.74 167.86,728.25" fill="#3868cc" stroke="#6a7580" stroke-width="0.8"/>
<polygon points="183.30,756.00 186.24,760.25 191.19,761.74 188.06,765.85 188.18,771.01 183.30,769.30 178.42,771.01 178.54,765.85 175.41,761.74 180.36,760.25" fill="#d5eff7" stroke="#6a7580" stroke-width="0.8"/>
<polygon points="201.30,635.20 204.24,639.45 209.19,640.94 206.06,645.05 206.18,650.21 201.30,648.50 196.42,650.21 196.54,645.05 193.41,640.94 198.36,639.45" fill="#a9cdf1" stroke="#6a7580" stroke-width="0.8"/>
<polygon points="207.90,663.00 210.84,667.25 215.79,668.74 212.66,672.85 212.78,678.01 207.90,676.30 203.02,678.01 203.14,672.85 200.01,668.74 204.96,667.25" fill="#3868cc" stroke="#6a7580" stroke-width="0.8"/>
<polygon points="193.40,689.60 196.34,693.85 201.29,695.34 198.16,699.45 198.28,704.61 193.40,702.90 188.52,704.61 188.64,699.45 185.51,695.34 190.46,693.85" fill="#86b3ec" stroke="#6a7580" stroke-width="0.8"/>
<polygon points="259.70,677.00 262.64,681.25 267.59,682.74 264.46,686.85 264.58,692.01 259.70,690.30 254.82,692.01 254.94,686.85 251.81,682.74 256.76,681.25" fill="#3868cc" stroke="#6a7580" stroke-width="0.8"/>
<polygon points="234.90,766.70 237.84,770.95 242.79,772.44 239.66,776.55 239.78,781.71 234.90,780.00 230.02,781.71 230.14,776.55 227.01,772.44 231.96,770.95" fill="#86b3ec" stroke="#6a7580" stroke-width="0.8"/>
<polygon points="294.70,769.00 297.64,773.25 302.59,774.74 299.46,778.85 299.58,784.01 294.70,782.30 289.82,784.01 289.94,778.85 286.81,774.74 291.76,773.25" fill="#86b3ec" stroke="#6a7580" stroke-width="0.8"/>
<polygon points="324.30,680.10 327.24,684.35 332.19,685.84 329.06,689.95 329.18,695.11 324.30,693.40 319.42,695.11 319.54,689.95 316.41,685.84 321.36,684.35" fill="#1f3a8c" stroke="#6a7580" stroke-width="0.8"/>
<polygon points="320.00,724.00 322.94,728.25 327.89,729.74 324.76,733.85 324.88,739.01 320.00,737.30 315.12,739.01 315.24,733.85 312.11,729.74 317.06,728.25" fill="#3868cc" stroke="#6a7580" stroke-width="0.8"/>
<polygon points="374.40,583.20 377.34,587.45 382.29,588.94 379.16,593.05 379.28,598.21 374.40,596.50 369.52,598.21 369.64,593.05 366.51,588.94 371.46,587.45" fill="#a9cdf1" stroke="#6a7580" stroke-width="0.8"/>
<polygon points="425.00,601.80 427.94,606.05 432.89,607.54 429.76,611.65 429.88,616.81 425.00,615.10 420.12,616.81 420.24,611.65 417.11,607.54 422.06,606.05" fill="#a9cdf1" stroke="#6a7580" stroke-width="0.8"/>
<polygon points="384.00,629.60 386.94,633.85 391.89,635.34 388.76,639.45 388.88,644.61 384.00,642.90 379.12,644.61 379.24,639.45 376.11,635.34 381.06,633.85" fill="#86b3ec" stroke="#6a7580" stroke-width="0.8"/>
<polygon points="440.30,537.50 443.24,541.75 448.19,543.24 445.06,547.35 445.18,552.51 440.30,550.80 435.42,552.51 435.54,547.35 432.41,543.24 437.36,541.75" fill="#86b3ec" stroke="#6a7580" stroke-width="0.8"/>
<polygon points="494.90,555.00 497.84,559.25 502.79,560.74 499.66,564.85 499.78,570.01 494.90,568.30 490.02,570.01 490.14,564.85 487.01,560.74 491.96,559.25" fill="#86b3ec" stroke="#6a7580" stroke-width="0.8"/>
<polygon points="482.60,495.40 485.54,499.65 490.49,501.14 487.36,505.25 487.48,510.41 482.60,508.70 477.72,510.41 477.84,505.25 474.71,501.14 479.66,499.65" fill="#d5eff7" stroke="#6a7580" stroke-width="0.8"/>
<polygon points="465.00,671.20 467.94,675.45 472.89,676.94 469.76,681.05 469.88,686.21 465.00,684.50 460.12,686.21 460.24,681.05 457.11,676.94 462.06,675.45" fill="#5b8ee0" stroke="#6a7580" stroke-width="0.8"/>
<polygon points="430.90,709.50 433.84,713.75 438.79,715.24 435.66,719.35 435.78,724.51 430.90,722.80 426.02,724.51 426.14,719.35 423.01,715.24 427.96,713.75" fill="#a9cdf1" stroke="#6a7580" stroke-width="0.8"/>
<polygon points="610.90,545.40 613.84,549.65 618.79,551.14 615.66,555.25 615.78,560.41 610.90,558.70 606.02,560.41 606.14,555.25 603.01,551.14 607.96,549.65" fill="#d5eff7" stroke="#6a7580" stroke-width="0.8"/>
<polygon points="610.20,585.00 613.14,589.25 618.09,590.74 614.96,594.85 615.08,600.01 610.20,598.30 605.32,600.01 605.44,594.85 602.31,590.74 607.26,589.25" fill="#d5eff7" stroke="#6a7580" stroke-width="0.8"/>
<polygon points="630.10,658.40 633.04,662.65 637.99,664.14 634.86,668.25 634.98,673.41 630.10,671.70 625.22,673.41 625.34,668.25 622.21,664.14 627.16,662.65" fill="#72a4e8" stroke="#6a7580" stroke-width="0.8"/>
<polygon points="554.50,707.70 557.44,711.95 562.39,713.44 559.26,717.55 559.38,722.71 554.50,721.00 549.62,722.71 549.74,717.55 546.61,713.44 551.56,711.95" fill="#d5eff7" stroke="#6a7580" stroke-width="0.8"/>
<polygon points="564.00,738.40 566.94,742.65 571.89,744.14 568.76,748.25 568.88,753.41 564.00,751.70 559.12,753.41 559.24,748.25 556.11,744.14 561.06,742.65" fill="#d5eff7" stroke="#6a7580" stroke-width="0.8"/>
<polygon points="550.00,769.40 552.94,773.65 557.89,775.14 554.76,779.25 554.88,784.41 550.00,782.70 545.12,784.41 545.24,779.25 542.11,775.14 547.06,773.65" fill="#d5eff7" stroke="#6a7580" stroke-width="0.8"/>
<polygon points="515.90,778.60 518.84,782.85 523.79,784.34 520.66,788.45 520.78,793.61 515.90,791.90 511.02,793.61 511.14,788.45 508.01,784.34 512.96,782.85" fill="#a9cdf1" stroke="#6a7580" stroke-width="0.8"/>
<g class="ser" font-size="13" fill="#111" stroke="#111" stroke-width="0.4">
<text x="122.6" y="632.3" font-style="italic">ldh</text>
<text x="113.9" y="665.7" font-style="italic">gtfA</text>
<text x="113.3" y="728.1" font-style="italic">luxS</text>
<text x="253.3" y="632.7" font-style="italic">stsR</text>
<text x="294.7" y="629.7" font-style="italic">gtfC</text>
<text x="340.9" y="619.7" font-style="italic">gbpC</text>
<text x="338.8" y="654.7" font-style="italic">gtfB</text>
<text x="392.0" y="660.7" font-style="italic">scrB</text>
<text x="204.8" y="710.5" font-style="italic">vicK</text>
<text x="237.8" y="720.7" font-style="italic">atpF</text>
<text x="266.0" y="733.5" font-style="italic">ciaX</text>
<text x="361.0" y="702.1" font-style="italic">comD</text>
<text x="363.0" y="742.7" font-style="italic">ciaR</text>
<text x="321.5" y="757.2" font-style="italic">ciaH</text>
<text x="483.2" y="596.6" font-style="italic">gbpB</text>
<text x="558.0" y="571.0" font-style="italic">aguB</text>
<text x="635.2" y="619.0" font-style="italic">eno</text>
<text x="650.3" y="650.7" font-style="italic">atpD</text>
<text x="637.4" y="693.3" font-style="italic">gbpA</text>
<text x="484.4" y="747.7" font-style="italic">aguA</text>
<text x="448.9" y="773.3" font-style="italic">vicR</text>
<text x="21.9" y="614.7">3-Phospho-D-glycerate</text>
<text x="64.8" y="655.7">Arginine</text>
<text x="29.2" y="702.7">S-adenosyl-l-homocysteine</text>
<text x="143.2" y="724.0">Cellobiose</text>
<text x="147.8" y="756.7">L-methionine</text>
<text x="173.6" y="629.7">D-Fructose</text>
<text x="150.7" y="662.0">Phosphoenolpyruvate</text>
<text x="145.2" y="689.5">O-acetyl-l-serine</text>
<text x="248.0" y="700.7">Lactose</text>
<text x="217.4" y="766.5">Salicin</text>
<text x="269.0" y="769.4">Raffinose</text>
<text x="302.6" y="678.0">Creatine</text>
<text x="291.8" y="723.4">L-Alanine</text>
<text x="235.5" y="596.5">S-adenosyl-l-methionine</text>
<text x="411.0" y="601.8">NAD</text>
<text x="392.8" y="641.7">S-methyl-5&#39;-thioadenosine</text>
<text x="372.3" y="536.4">Adenosine 5&#39;-diphosphate</text>
<text x="363.5" y="566.5">D-glucose 6-phosphate</text>
<text x="493.7" y="509.8">D-sorbitol</text>
<text x="446.0" y="669.4">Acetyl-coa</text>
<text x="407.2" y="706.0">Ophthalmate</text>
<text x="540.1" y="542.7">N-acetyl-d-galactosamine</text>
<text x="592.3" y="582.4">Maltose</text>
<text x="610.2" y="654.5">Sucrose</text>
<text x="522.0" y="706.6">Myo-inositol</text>
<text x="543.0" y="736.0">Stachyose</text>
<text x="530.4" y="768.7">Arbutin</text>
<text x="493.0" y="779.3">L-Serine</text>
</g>
</svg></body></html>
